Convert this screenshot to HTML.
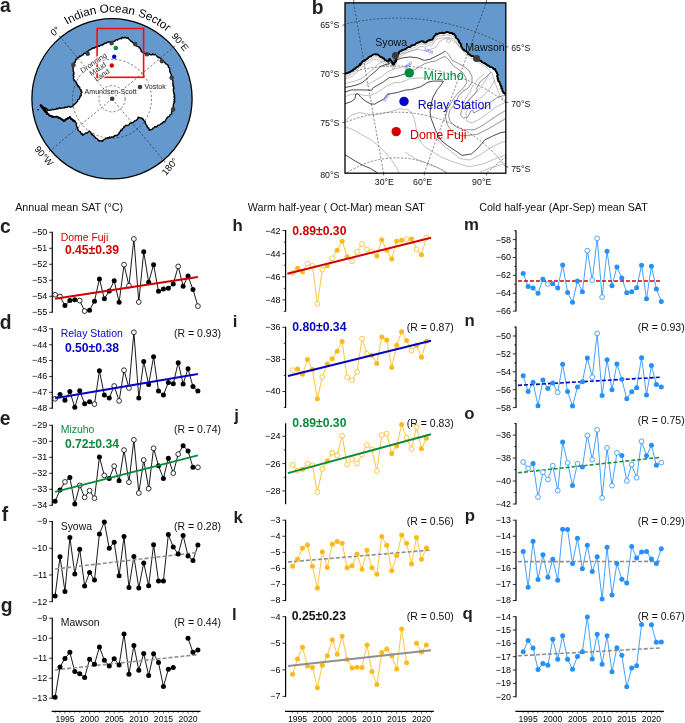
<!DOCTYPE html>
<html><head><meta charset="utf-8"><title>Figure</title>
<style>
html,body{margin:0;padding:0;background:#fff;}
body{width:685px;height:723px;overflow:hidden;}
svg{display:block;font-family:"Liberation Sans", sans-serif;will-change:transform;}
</style></head>
<body>
<svg width="685" height="723" viewBox="0 0 685 723" font-family='"Liberation Sans", sans-serif'>
<rect width="685" height="723" fill="#fff"/>
<circle cx="112.0" cy="98.8" r="80.1" fill="#6598cc"/>
<path d="M40.60,105.40 L41.46,105.62 L41.93,106.40 L42.73,106.71 L43.25,107.42 L43.93,107.93 L44.91,107.68 L45.61,107.97 L45.83,109.19 L46.82,108.91 L47.50,109.23 L47.76,110.39 L48.69,110.16 L49.76,110.45 L50.70,109.87 L51.53,109.93 L52.23,109.22 L53.13,109.66 L53.97,109.80 L54.70,109.26 L55.56,109.38 L56.24,109.15 L56.79,108.29 L57.66,108.95 L58.32,108.61 L58.95,108.12 L59.58,107.65 L60.49,108.48 L61.09,107.87 L61.84,108.05 L62.57,108.12 L63.24,107.82 L63.98,107.95 L64.58,107.21 L65.36,107.58 L65.99,107.05 L66.74,107.52 L67.44,107.40 L68.09,106.42 L68.81,106.41 L69.53,106.46 L70.30,107.31 L70.97,106.62 L71.70,106.80 L72.22,106.44 L72.89,106.05 L73.26,105.39 L73.70,104.80 L74.40,104.43 L74.88,103.86 L75.64,103.53 L75.88,102.79 L76.57,102.41 L76.96,101.78 L77.55,101.31 L77.70,100.50 L77.66,99.58 L78.76,99.44 L79.26,98.91 L79.60,98.27 L79.67,97.45 L80.21,96.94 L80.11,96.01 L81.13,95.82 L81.29,95.02 L81.10,94.11 L80.98,93.38 L81.80,92.49 L81.84,91.73 L80.65,91.16 L81.38,90.28 L80.81,89.66 L80.10,89.22 L79.78,88.50 L79.77,87.53 L79.41,86.83 L78.15,86.80 L78.24,85.77 L77.22,85.55 L77.42,84.46 L76.63,84.08 L76.78,83.10 L76.49,82.41 L75.61,82.10 L75.70,81.15 L74.61,80.97 L73.97,80.50 L74.12,79.59 L73.38,78.91 L73.52,78.15 L73.71,77.39 L73.89,76.63 L73.29,75.93 L73.09,75.20 L74.02,74.38 L73.30,73.70 L74.01,72.90 L73.87,72.15 L73.18,71.44 L73.20,70.65 L73.20,69.87 L73.27,69.08 L73.14,68.31 L73.02,67.54 L73.02,66.76 L73.27,66.24 L73.19,65.26 L73.49,64.48 L74.18,63.90 L74.04,62.90 L74.49,62.18 L75.56,61.97 L75.44,61.07 L75.83,60.47 L75.63,59.53 L76.44,59.12 L77.18,58.77 L77.38,57.75 L78.45,57.81 L79.08,57.32 L79.32,56.25 L80.31,56.44 L80.83,55.89 L81.59,55.72 L82.01,55.00 L82.86,54.97 L83.50,54.62 L83.67,53.50 L84.30,53.16 L85.33,53.36 L86.14,53.23 L86.28,52.10 L87.04,51.89 L87.75,51.61 L88.18,50.92 L88.83,50.55 L89.41,50.08 L90.06,49.72 L90.83,49.53 L91.25,48.82 L91.95,48.46 L92.79,48.68 L93.18,47.61 L94.07,48.00 L94.82,47.96 L95.34,47.25 L95.99,46.92 L96.89,47.35 L97.36,46.48 L98.02,46.20 L98.79,46.25 L99.61,46.31 L99.96,45.34 L100.75,45.24 L101.43,44.91 L102.37,45.11 L102.83,44.35 L103.73,44.46 L104.03,43.39 L104.79,43.23 L105.64,43.23 L106.43,43.15 L106.90,42.34 L107.66,42.02 L108.44,41.85 L109.25,42.29 L110.01,41.83 L110.84,42.52 L111.75,42.48 L112.11,41.49 L112.80,41.33 L113.69,41.66 L114.26,41.22 L114.99,41.14 L115.43,40.37 L115.98,39.87 L116.71,39.79 L117.58,40.09 L118.01,39.24 L118.70,39.09 L119.39,38.93 L120.05,38.69 L120.70,38.44 L121.57,38.77 L121.92,37.67 L122.52,37.26 L123.56,38.08 L124.20,37.77 L124.55,37.67 L125.50,37.22 L126.13,38.02 L126.91,38.20 L127.90,37.58 L128.35,38.25 L128.65,38.97 L129.23,39.52 L129.78,40.09 L130.42,40.61 L130.70,41.24 L131.42,41.50 L132.18,41.72 L132.52,42.65 L133.36,42.72 L133.70,43.65 L134.82,43.24 L134.89,44.47 L135.62,44.76 L136.02,45.46 L136.62,45.93 L137.19,46.42 L138.02,46.61 L139.03,46.58 L139.03,47.74 L140.14,47.81 L140.38,48.54 L140.37,49.41 L140.89,49.99 L141.38,50.58 L141.20,51.54 L141.91,52.01 L142.45,52.42 L143.25,52.53 L143.82,53.45 L144.71,53.22 L145.37,53.79 L146.28,53.51 L147.03,53.54 L147.71,54.01 L148.40,54.41 L149.19,53.70 L149.84,54.50 L150.55,54.72 L151.28,54.65 L151.99,54.73 L152.80,53.82 L153.45,54.63 L154.14,54.97 L155.24,54.18 L155.64,54.84 L156.22,55.30 L156.59,56.00 L157.24,56.36 L157.78,56.86 L158.12,57.60 L159.29,57.34 L159.80,57.86 L160.30,58.40 L160.86,58.87 L161.46,59.29 L161.32,60.59 L161.97,60.95 L163.13,60.72 L163.33,61.56 L164.00,61.85 L164.54,62.31 L165.04,62.81 L165.33,63.53 L165.91,63.94 L166.62,64.19 L167.28,64.50 L167.70,65.08 L168.53,65.55 L168.27,66.38 L168.33,67.11 L168.95,67.64 L169.52,68.18 L169.65,68.88 L169.67,69.62 L169.64,70.38 L169.68,71.10 L170.36,71.69 L170.10,72.57 L170.53,73.24 L170.97,73.91 L171.26,74.62 L171.34,75.40 L171.32,76.20 L171.87,76.84 L171.77,77.65 L172.19,78.31 L172.59,78.98 L172.39,79.78 L172.35,80.53 L173.23,81.11 L172.96,81.92 L173.10,82.64 L172.71,83.47 L172.78,84.14 L173.50,84.80 L172.93,85.55 L173.11,86.25 L173.80,86.91 L173.61,87.64 L174.07,88.31 L173.30,89.08 L173.54,89.78 L173.32,90.50 L173.49,91.20 L173.69,91.90 L173.67,92.61 L173.92,93.30 L174.50,94.00 L173.95,94.74 L174.68,95.43 L174.54,96.16 L173.81,96.90 L174.71,97.59 L174.68,98.31 L174.70,99.03 L173.79,99.78 L174.66,100.47 L174.87,101.28 L173.79,101.87 L174.55,102.71 L173.59,103.32 L173.69,104.07 L173.40,104.77 L173.16,105.48 L173.51,106.26 L173.15,106.91 L173.84,107.93 L172.79,108.52 L172.89,109.40 L172.45,110.14 L172.92,111.21 L171.87,111.61 L171.31,112.25 L171.89,113.45 L171.25,114.05 L170.65,114.64 L169.89,114.87 L169.79,115.88 L169.28,116.41 L168.67,116.81 L167.82,116.95 L167.16,117.30 L166.91,118.07 L166.54,118.74 L166.11,119.38 L165.75,120.07 L165.28,120.69 L165.09,121.71 L164.22,121.71 L163.32,121.66 L163.14,122.62 L162.33,122.71 L162.16,123.69 L161.22,123.59 L160.60,123.94 L160.11,124.41 L159.53,124.91 L158.88,125.27 L158.14,125.42 L157.34,125.47 L157.07,126.60 L156.44,126.99 L155.43,126.61 L154.65,126.77 L154.24,127.56 L153.63,128.01 L152.82,128.10 L152.49,129.03 L151.79,129.32 L151.18,129.76 L150.30,129.74 L149.52,130.33 L148.99,129.77 L148.99,128.83 L148.79,128.03 L147.70,127.88 L147.65,126.97 L146.90,126.54 L147.13,125.61 L146.55,124.98 L145.92,124.37 L145.60,123.64 L145.11,122.98 L145.35,122.05 L145.00,121.40 L144.29,121.06 L143.90,120.38 L143.33,119.89 L143.17,118.98 L142.26,119.10 L141.82,117.87 L140.83,118.16 L140.10,117.75 L139.27,117.62 L138.14,117.13 L137.83,117.81 L137.79,118.62 L137.55,119.33 L137.07,119.77 L136.34,119.98 L135.95,120.82 L135.10,120.82 L134.31,120.94 L133.94,121.81 L133.42,122.42 L132.76,122.77 L131.83,122.61 L131.21,123.01 L130.39,123.04 L129.79,123.48 L129.46,124.47 L128.83,124.85 L128.13,125.11 L127.51,125.52 L126.57,125.29 L125.83,125.46 L125.15,125.74 L124.91,126.71 L123.83,126.77 L123.75,127.80 L123.09,128.28 L122.27,128.59 L122.27,129.70 L121.71,130.27 L120.47,130.27 L120.59,131.22 L120.11,131.75 L119.48,132.17 L118.98,132.68 L119.22,133.72 L118.49,134.07 L117.97,134.57 L117.51,135.12 L116.87,135.67 L115.99,135.48 L115.12,135.29 L114.59,136.17 L113.80,136.24 L113.22,136.96 L112.42,137.02 L111.54,136.81 L111.00,137.67 L110.00,137.00 L109.26,137.20 L108.81,138.35 L107.78,137.60 L107.24,138.48 L106.37,138.24 L105.64,138.48 L105.16,139.19 L104.24,139.36 L103.64,139.90 L102.90,140.28 L102.70,141.30 L102.01,141.32 L101.44,140.82 L100.66,140.89 L99.94,140.78 L99.09,140.99 L98.60,140.31 L97.95,139.97 L97.71,139.18 L97.15,138.76 L96.53,138.40 L95.70,138.29 L95.53,137.41 L94.99,136.96 L94.11,136.91 L94.14,135.81 L93.44,135.58 L92.47,135.42 L92.72,134.21 L91.51,134.25 L91.20,133.53 L91.06,132.65 L90.46,132.17 L89.94,131.63 L89.31,130.95 L88.77,131.54 L88.20,132.09 L87.62,132.63 L87.03,133.14 L85.97,132.88 L85.28,133.24 L84.75,133.86 L83.97,134.05 L83.55,134.84 L82.58,135.27 L82.26,134.64 L82.28,133.72 L81.07,133.79 L81.07,132.90 L80.40,132.54 L80.40,131.55 L79.54,131.49 L78.97,131.06 L78.48,130.54 L78.05,129.99 L78.12,129.17 L77.43,128.55 L77.80,127.64 L76.75,127.12 L76.73,126.32 L76.34,125.64 L76.11,124.83 L76.64,123.80 L76.34,123.02 L75.48,122.41 L75.43,121.83 L74.92,121.27 L74.45,120.60 L73.85,120.20 L73.17,119.95 L72.49,119.83 L71.57,119.52 L71.30,118.70 L70.61,118.21 L70.43,117.32 L69.85,116.63 L69.47,117.47 L68.80,117.90 L67.78,117.87 L67.68,119.07 L66.54,118.77 L65.85,119.00 L65.18,119.26 L64.84,120.19 L64.11,120.32 L63.56,120.62 L62.96,120.09 L62.56,119.28 L61.71,119.08 L60.80,118.97 L60.49,117.91 L59.65,118.00 L59.07,117.55 L58.50,117.10 L57.47,117.55 L57.07,116.38 L56.28,116.59 L55.50,116.87 L54.70,116.91 L53.90,117.07 L52.94,117.43 L52.42,116.72 L51.45,116.90 L51.00,116.05 L50.38,115.54 L49.57,115.41 L48.94,114.93 L48.45,114.16 L47.87,114.01 L46.72,114.01 L46.91,112.97 L46.32,112.54 L45.35,112.41 L45.21,111.62 L44.66,111.16 L44.08,110.72 L44.09,109.82 L44.03,108.98 L43.02,108.87 L43.11,107.91 L42.51,107.48 L41.55,107.34 L41.80,106.25 L41.13,105.88 L40.60,105.40 Z" fill="#fff" stroke="#000" stroke-width="1.35" stroke-linejoin="round"/>
<path d="M40.3,104.6 L43.5,107.2 L46.5,110.6 L48.2,113.2 L47,114.6 L44.6,112 L41.8,108.6 L39.8,105.6 Z" fill="#000"/>
<polyline points="40.80,105.20 41.29,105.71 41.64,106.35 41.76,107.17 42.63,107.37 43.04,107.96 43.42,108.56 44.30,108.93 44.49,109.83 44.88,110.57 45.22,111.35 46.36,111.47 46.67,112.18 47.36,112.55 47.23,113.67 47.83,114.12 48.78,114.03 48.83,115.37 49.46,115.73 50.28,115.78 50.94,116.12 51.89,116.00 52.67,116.22 53.10,117.13 53.87,116.53 54.68,116.65 55.48,116.67 56.27,116.38 57.12,116.86 57.93,117.18 58.54,117.98 59.49,117.97 60.19,118.43 60.94,118.82 61.46,119.49 62.25,119.82 63.03,120.17 63.77,121.43 64.41,121.11 64.96,120.63 65.53,120.16 65.96,119.42 66.51,119.04 67.19,118.62 67.67,117.93 68.81,118.12 69.19,117.28 69.57,117.16 70.51,117.46 70.47,118.52 71.07,119.08 72.37,119.09 72.56,119.79 72.82,120.86 73.70,120.71 74.06,121.58 75.02,121.27 75.60,121.70" fill="none" stroke="#000" stroke-width="1.5" stroke-linejoin="round"/>
<polyline points="40.8,105.4 43.8,108.6 46.4,112.2" fill="none" stroke="#000" stroke-width="2.4" stroke-linecap="round"/>
<circle cx="38.2" cy="109.7" r="0.8" fill="#000"/>
<line x1="112.0" y1="98.8" x2="60.51" y2="37.44" stroke="#222" stroke-width="0.6" stroke-dasharray="2.2,2.0" fill="none"/>
<line x1="112.0" y1="98.8" x2="173.36" y2="47.31" stroke="#222" stroke-width="0.6" stroke-dasharray="2.2,2.0" fill="none"/>
<line x1="112.0" y1="98.8" x2="163.49" y2="160.16" stroke="#222" stroke-width="0.6" stroke-dasharray="2.2,2.0" fill="none"/>
<line x1="112.0" y1="98.8" x2="50.64" y2="150.29" stroke="#222" stroke-width="0.6" stroke-dasharray="2.2,2.0" fill="none"/>
<circle cx="112.0" cy="98.8" r="13.1" stroke="#222" stroke-width="0.6" stroke-dasharray="2.2,2.0" fill="none"/>
<circle cx="112.0" cy="98.8" r="39.5" stroke="#222" stroke-width="0.6" stroke-dasharray="2.2,2.0" fill="none"/>
<circle cx="112.0" cy="98.8" r="80.1" fill="none" stroke="#000" stroke-width="1.3"/>
<line x1="60.51" y1="37.44" x2="59.10" y2="35.75" stroke="#000" stroke-width="0.6"/>
<line x1="173.36" y1="47.31" x2="175.05" y2="45.90" stroke="#000" stroke-width="0.6"/>
<line x1="163.49" y1="160.16" x2="164.90" y2="161.85" stroke="#000" stroke-width="0.6"/>
<line x1="50.64" y1="150.29" x2="48.95" y2="151.70" stroke="#000" stroke-width="0.6"/>
<rect x="97.1" y="28.5" width="46.5" height="48.8" fill="none" stroke="#ff0a0a" stroke-width="1.6"/>
<circle cx="111.6" cy="43.1" r="2.3" fill="#3c3c3c"/>
<circle cx="87.7" cy="53.8" r="2.3" fill="#3c3c3c"/>
<circle cx="73.4" cy="65.1" r="2.3" fill="#3c3c3c"/>
<circle cx="135.2" cy="44.1" r="2.3" fill="#3c3c3c"/>
<circle cx="147" cy="54.2" r="2.3" fill="#3c3c3c"/>
<circle cx="161.8" cy="61.1" r="2.3" fill="#3c3c3c"/>
<circle cx="171.7" cy="77.8" r="2.3" fill="#3c3c3c"/>
<circle cx="173.1" cy="109.4" r="2.3" fill="#3c3c3c"/>
<circle cx="140.0" cy="87.0" r="2.3" fill="#3c3c3c"/>
<circle cx="112.2" cy="98.8" r="2.3" fill="#3c3c3c"/>
<circle cx="115.8" cy="48" r="2.3" fill="#008a40"/>
<circle cx="114.2" cy="56.8" r="2.2" fill="#0505c8"/>
<circle cx="111.8" cy="65.5" r="2.2" fill="#d00000"/>
<text x="84.60" y="93.90" font-size="7.6" fill="#222" text-anchor="start" textLength="52" lengthAdjust="spacingAndGlyphs" stroke="#fff" stroke-width="1.3" paint-order="stroke">Amundsen-Scott</text>
<text x="144.40" y="89.40" font-size="7.4" fill="#222" text-anchor="start" textLength="21.3" lengthAdjust="spacingAndGlyphs" stroke="#fff" stroke-width="1.3" paint-order="stroke">Vostok</text>
<g transform="translate(97.6,68.8) rotate(-34)" font-size="7.4" fill="#333" text-anchor="middle" stroke="#fff" stroke-width="1.4" paint-order="stroke" stroke-linejoin="round"><text x="0" y="-4.8">Dronning</text><text x="0" y="2.7">Maud</text><text x="0" y="10.2">Land</text></g>
<path id="arcT" d="M26.81,83.78 A86.5,86.5 0 0 1 197.19,83.78" fill="none"/>
<text font-size="11.7" fill="#000"><textPath href="#arcT" startOffset="126.82" text-anchor="middle">Indian Ocean Sector</textPath></text>
<text transform="translate(55.0,31.0) rotate(-40)" font-size="9.4" text-anchor="middle" dominant-baseline="central" fill="#000">0°</text>
<text transform="translate(180.4,41.8) rotate(50)" font-size="9.4" text-anchor="middle" dominant-baseline="central" fill="#000">90°E</text>
<text transform="translate(169.5,166.2) rotate(-50)" font-size="9.4" text-anchor="middle" dominant-baseline="central" fill="#000">180°</text>
<text transform="translate(44.1,155.8) rotate(50)" font-size="9.4" text-anchor="middle" dominant-baseline="central" fill="#000">90°W</text>
<defs><clipPath id="cb"><rect x="345.0" y="2.85" width="160.8" height="170.35"/></clipPath></defs>
<g clip-path="url(#cb)">
<rect x="345.0" y="2.85" width="160.8" height="170.35" fill="#fff"/>
<path d="M345.0,2.85 L505.8,2.85 L505.80,94.50 L505.13,93.90 L504.50,93.25 L503.56,92.93 L503.26,91.94 L502.51,91.38 L502.50,90.48 L502.30,89.66 L502.09,88.85 L501.26,88.28 L501.67,87.21 L501.09,86.54 L500.92,85.71 L500.31,85.06 L500.32,84.15 L499.95,83.40 L499.68,82.61 L499.41,81.82 L498.52,81.27 L498.17,80.51 L498.26,79.58 L497.60,78.80 L497.83,77.83 L497.54,76.97 L497.05,76.15 L497.82,75.08 L497.53,74.22 L496.95,73.41 L496.82,72.43 L496.20,71.60 L495.57,70.78 L495.39,69.81 L495.12,69.01 L494.08,69.21 L493.30,68.92 L492.90,67.87 L492.17,67.47 L491.46,67.08 L490.45,67.11 L489.62,66.85 L489.19,65.94 L488.48,65.50 L487.47,65.54 L486.84,64.96 L486.40,64.15 L485.47,64.13 L485.10,63.19 L484.26,63.04 L483.43,62.86 L482.72,62.48 L481.97,62.17 L481.41,61.55 L481.01,60.64 L479.92,60.80 L479.29,60.23 L478.66,59.63 L477.75,59.49 L477.00,59.09 L476.43,58.41 L475.87,57.62 L475.10,57.18 L474.31,56.79 L473.53,56.35 L472.76,56.04 L471.73,56.10 L471.00,55.69 L470.31,55.20 L469.86,54.34 L468.87,54.33 L468.30,53.66 L467.85,52.78 L467.13,52.27 L466.58,51.54 L465.88,51.01 L464.99,50.74 L464.19,50.34 L463.66,49.58 L462.90,49.13 L462.44,48.39 L462.06,47.61 L461.63,46.86 L461.13,46.14 L460.90,45.29 L461.04,44.25 L460.55,43.52 L459.72,43.03 L459.49,42.19 L458.84,41.60 L458.91,40.57 L458.30,39.96 L457.95,39.19 L457.13,38.70 L456.47,38.12 L455.84,37.49 L455.65,36.52 L455.50,35.51 L454.55,35.13 L454.32,34.18 L453.48,33.72 L452.52,33.96 L451.83,32.86 L450.91,32.81 L449.89,33.28 L449.12,32.54 L448.22,32.43 L447.38,32.01 L446.37,32.09 L445.53,32.58 L444.64,32.67 L443.81,33.29 L442.91,33.25 L441.94,32.63 L441.08,32.97 L440.25,33.15 L439.41,33.26 L438.57,33.36 L437.86,34.01 L437.11,34.46 L436.09,33.84 L435.61,34.92 L434.92,35.48 L434.49,36.20 L433.89,36.82 L433.45,37.55 L433.22,38.41 L432.60,39.01 L432.16,39.74 L431.41,39.62 L430.48,39.77 L429.65,40.48 L428.64,40.11 L427.91,40.79 L427.17,41.16 L426.62,41.90 L425.91,42.35 L425.13,42.65 L424.07,42.44 L423.62,41.34 L422.61,41.59 L421.85,41.21 L421.07,41.35 L420.28,41.75 L419.52,42.24 L418.74,42.30 L417.93,42.58 L417.26,43.06 L416.33,43.15 L415.77,43.81 L415.25,44.53 L414.49,44.89 L413.58,44.95 L412.74,45.25 L411.89,45.50 L411.05,45.77 L410.49,46.83 L409.63,47.06 L408.60,46.99 L407.80,47.46 L406.90,47.75 L406.33,48.69 L405.48,49.07 L404.67,49.54 L403.71,49.66 L402.84,49.99 L401.86,50.08 L401.40,51.20 L400.37,51.19 L399.49,51.48 L398.84,52.27 L398.95,53.35 L397.89,53.75 L397.50,54.54 L397.10,55.32 L396.91,56.22 L396.09,56.76 L396.48,57.84 L396.03,58.57 L395.75,59.35 L396.09,60.27 L396.08,61.11 L395.29,61.82 L394.89,62.58 L393.90,63.00 L393.98,64.04 L393.38,64.69 L392.57,64.09 L392.22,63.22 L392.12,62.22 L391.57,61.46 L391.12,60.64 L390.40,60.15 L389.99,59.26 L388.95,59.08 L388.94,59.82 L388.78,60.88 L388.36,61.85 L387.67,60.94 L386.67,60.86 L386.08,60.10 L384.96,59.98 L384.40,59.09 L383.81,58.23 L382.50,58.27 L382.14,57.24 L381.13,57.15 L380.28,56.79 L379.69,56.02 L378.82,55.46 L378.18,54.59 L377.08,54.36 L376.30,54.57 L375.33,54.15 L374.42,54.38 L373.51,54.59 L372.62,54.87 L371.91,55.49 L371.28,56.22 L370.24,56.36 L369.41,56.74 L368.68,57.24 L368.21,58.14 L367.37,58.49 L366.78,59.22 L366.01,59.67 L365.04,59.84 L364.66,60.86 L363.63,60.94 L362.79,61.28 L362.13,61.97 L361.61,62.69 L361.39,63.71 L360.20,63.76 L360.24,65.04 L359.20,65.14 L358.68,65.79 L358.28,66.60 L357.45,66.87 L356.56,67.07 L355.86,67.51 L355.69,68.57 L354.82,68.78 L353.99,69.04 L353.36,69.54 L352.97,70.33 L352.10,70.55 L351.66,71.29 L350.72,71.27 L350.12,71.92 L349.46,72.45 L348.50,72.42 L347.82,73.24 L346.74,73.07 L345.87,73.53 L345.00,74.00 Z" fill="#6598cc"/>
<circle cx="396.8" cy="248.2" r="230.11" stroke="#2a2a2a" stroke-width="0.55" stroke-dasharray="2.2,1.6" fill="none"/>
<circle cx="396.8" cy="248.2" r="182.15" stroke="#2a2a2a" stroke-width="0.55" stroke-dasharray="2.2,1.6" fill="none"/>
<circle cx="396.8" cy="248.2" r="136.00" stroke="#2a2a2a" stroke-width="0.55" stroke-dasharray="2.2,1.6" fill="none"/>
<circle cx="396.8" cy="248.2" r="90.38" stroke="#2a2a2a" stroke-width="0.55" stroke-dasharray="2.2,1.6" fill="none"/>
<line x1="396.8" y1="248.2" x2="327.34" y2="-145.72" stroke="#2a2a2a" stroke-width="0.55" stroke-dasharray="2.2,1.6" fill="none"/>
<line x1="396.8" y1="248.2" x2="533.61" y2="-127.68" stroke="#2a2a2a" stroke-width="0.55" stroke-dasharray="2.2,1.6" fill="none"/>
<line x1="396.8" y1="248.2" x2="703.22" y2="-8.92" stroke="#2a2a2a" stroke-width="0.55" stroke-dasharray="2.2,1.6" fill="none"/>
<polyline points="345.0,76.6 348.7,75.4 352.4,73.5 356.1,70.4 359.9,67.3 363.0,64.2 366.7,61.7 370.4,59.2 373.5,57.1 377.2,56.8 379.7,58.6 382.8,60.5 385.9,63.0 388.2,64.4 389.2,61.4 391.2,63.2 393.4,67.3 395.6,63.6 396.5,59.6 399.6,54.3 404.5,51.8 409.5,49.3 414.5,47.5 419.4,44.4 421.9,43.7 425.0,45.0 428.7,43.1 432.4,42.5 436.2,36.9 441.1,35.7 447.3,35.0 453.5,36.3 457.3,41.2 460.4,46.2" fill="none" stroke="#8a8a8a" stroke-width="0.55" stroke-linejoin="round"/>
<polyline points="345.0,79.0 348.7,77.8 352.4,75.9 356.1,72.8 359.9,69.7 363.0,66.6 366.7,64.1 370.4,61.6 373.5,59.5 377.2,59.2 379.7,61.0 382.8,62.9 385.9,65.4 388.2,66.8 389.2,63.8 391.2,65.6 393.4,69.7 395.6,66.0 396.5,62.0 399.6,56.7 404.5,54.2 409.5,51.7 414.5,49.9 419.4,46.8 421.9,46.1 425.0,47.4 428.7,45.5 432.4,44.9 436.2,39.3 441.1,38.1 447.3,37.4 453.5,38.7 457.3,43.6 460.4,48.6" fill="none" stroke="#8a8a8a" stroke-width="0.55" stroke-linejoin="round"/>
<polyline points="345.0,83.7 350.0,82.3 355.0,81.2 362.2,78.2 366.0,75.0 370.0,71.5 374.0,68.5 378.0,64.0 383.0,61.5 388.0,61.0 395.0,56.9 400.0,54.5 406.7,52.2 412.0,50.5 418.4,49.3 425.4,51.0 430.0,49.5 435.9,47.5 439.4,41.7 444.0,38.8 450.0,38.5 455.7,42.8 460.4,47.5 465.0,53.4 470.0,57.5 476.0,61.0 482.0,64.5 488.0,68.5 492.0,73.0 494.0,80.0 497.0,88.0 500.0,96.0 505.8,101.0" fill="none" stroke="#8a8a8a" stroke-width="0.55" stroke-linejoin="round"/>
<polyline points="446.0,40.5 448.7,39.2 451.0,41.2 448.7,43.0 446.0,40.5" fill="none" stroke="#8a8a8a" stroke-width="0.55" stroke-linejoin="round"/>
<polyline points="345.0,87.4 351.3,86.3 357.1,84.8 362.2,82.6 365.9,79.7 369.5,76.1 373.2,73.1 376.8,70.2 379.8,66.6 384.1,65.1 388.0,64.0 395.0,60.4 402.0,58.0 410.2,56.9 418.4,58.0 424.2,60.4 430.0,59.2 435.9,56.3 441.7,53.4 445.2,51.0" fill="none" stroke="#1e1e1e" stroke-width="0.8" stroke-linejoin="round"/>
<polyline points="445.2,51.0 448.7,54.5 452.2,60.4 458.5,63.5 464.0,66.5 469.0,70.5 472.0,76.5 472.0,82.0 468.7,87.6 462.6,91.7 458.5,95.8 456.5,100.9 453.4,106.0 449.9,110.0 448.6,115.7 449.9,121.1 455.3,126.5 463.3,129.8 474.1,129.8 480.8,126.5 488.9,121.1 496.9,115.7 505.8,110.4" fill="none" stroke="#4a4a4a" stroke-width="0.6" stroke-linejoin="round"/>
<polyline points="491.0,72.0 486.0,77.0 480.0,82.0 476.9,87.6 476.9,90.7 473.8,94.7 469.7,98.8 465.7,103.9 461.6,110.1 460.5,115.2 463.6,118.2 467.7,117.2 470.8,111.1 472.8,110.1 473.8,113.1 478.9,110.1 486.1,107.0 492.2,100.9 498.4,96.8 505.8,95.3" fill="none" stroke="#4a4a4a" stroke-width="0.6" stroke-linejoin="round"/>
<polyline points="484.0,74.0 478.0,79.0 472.5,86.0 470.0,92.0 466.0,98.0 463.0,104.0 464.5,110.0 467.5,104.0 471.0,98.0 476.0,93.0 481.0,87.0 486.0,80.0 489.0,74.0" fill="none" stroke="#8a8a8a" stroke-width="0.55" stroke-linejoin="round"/>
<polyline points="495.0,80.0 490.0,88.0 484.0,95.0 478.0,100.0 472.0,104.0 468.0,108.0 466.0,113.0 466.5,121.0 472.0,123.0 480.0,119.0 488.0,113.0 496.0,107.0 505.8,102.0" fill="none" stroke="#8a8a8a" stroke-width="0.55" stroke-linejoin="round"/>
<polyline points="345.0,92.1 351.3,89.9 357.1,89.9 363.0,89.9 371.7,90.3 373.2,87.7 378.3,84.8 383.4,81.9 389.3,77.5 394.0,77.2 400.4,75.4 404.5,73.9 409.0,72.6 412.0,71.0" fill="none" stroke="#1e1e1e" stroke-width="0.8" stroke-linejoin="round"/>
<polyline points="412.0,71.0 416.0,68.8 420.0,66.3 425.0,63.5 430.0,62.0 436.0,61.0 441.0,58.0 445.0,56.5 449.0,60.0 453.0,65.5 458.0,69.0 463.0,73.0 466.0,78.0 466.5,83.0 463.0,88.5 458.0,93.0 454.0,98.0 450.5,104.0 447.0,110.0 445.5,117.0 447.0,124.0 452.0,131.9 462.0,135.9 476.8,134.5 490.2,127.8 505.8,118.4" fill="none" stroke="#4a4a4a" stroke-width="0.6" stroke-linejoin="round"/>
<polyline points="345.0,96.5 351.3,94.3 358.6,94.3 364.0,95.3 369.5,95.8 376.8,92.8 384.1,87.7 394.0,82.6 400.4,82.6 410.7,78.5 420.0,78.0 430.0,77.5" fill="none" stroke="#8a8a8a" stroke-width="0.55" stroke-linejoin="round"/>
<polyline points="365.9,85.5 372.0,82.0 380.5,77.5 387.8,71.7 394.0,69.0 402.0,67.0 410.0,64.5" fill="none" stroke="#8a8a8a" stroke-width="0.55" stroke-linejoin="round"/>
<polyline points="345.0,103.8 351.3,101.6 355.0,98.7 355.7,94.3 357.9,93.6 360.8,97.2 365.2,100.9 370.3,103.8 374.7,104.2 379.0,101.6 383.4,99.4 387.8,94.3 391.4,93.6 397.6,92.4 405.7,90.0 410.7,89.7 420.9,86.7 428.0,82.1 433.1,81.1 443.4,81.1 441.3,84.6 437.2,89.7 433.1,96.9 431.1,104.0 430.1,112.2 431.1,118.4 435.1,129.2 440.5,139.9 447.2,145.3 455.3,150.7 462.0,155.4 471.4,154.0 478.1,148.0 484.8,139.9 492.9,135.9 501.0,132.5 505.8,131.9" fill="none" stroke="#1e1e1e" stroke-width="0.8" stroke-linejoin="round"/>
<polyline points="345.0,121.0 346.5,119.5 351.5,115.1 359.1,112.6 366.6,113.8 372.9,115.1 381.7,113.8 391.7,111.3 399.2,108.8 406.8,109.4 411.8,112.6 414.3,118.8 415.6,125.1 416.8,132.6 419.3,140.2 424.4,146.5 430.0,150.2 441.9,157.5 455.3,162.7 468.7,166.8 482.2,164.1 495.6,158.7 505.8,154.7" fill="none" stroke="#8a8a8a" stroke-width="0.55" stroke-linejoin="round"/>
<polyline points="436.0,138.0 444.0,146.0 452.0,152.0 460.0,158.5 470.0,160.0 480.0,155.0 490.0,148.0 500.0,143.0 505.8,141.0" fill="none" stroke="#8a8a8a" stroke-width="0.55" stroke-linejoin="round"/>
<polyline points="345.0,126.8 345.9,127.0 354.0,130.1 362.8,135.2 371.6,140.2 379.2,146.5 386.7,154.0 391.7,160.3 396.7,167.8 399.2,173.2" fill="none" stroke="#8a8a8a" stroke-width="0.55" stroke-linejoin="round"/>
<polyline points="345.0,154.8 345.9,155.2 354.0,160.3 362.8,165.3 370.4,168.4 377.9,173.2" fill="none" stroke="#1e1e1e" stroke-width="0.8" stroke-linejoin="round"/>
<polyline points="405.0,152.0 415.0,158.7 428.0,164.0 441.9,169.5 447.2,173.2" fill="none" stroke="#8a8a8a" stroke-width="0.55" stroke-linejoin="round"/>
<polyline points="480.0,172.0 490.0,168.0 500.0,165.0 505.8,163.0" fill="none" stroke="#8a8a8a" stroke-width="0.55" stroke-linejoin="round"/>
</g>
<polyline points="345.00,74.00 345.87,73.53 346.74,73.07 347.82,73.24 348.50,72.42 349.46,72.45 350.12,71.92 350.72,71.27 351.66,71.29 352.10,70.55 352.97,70.33 353.36,69.54 353.99,69.04 354.82,68.78 355.69,68.57 355.86,67.51 356.56,67.07 357.45,66.87 358.28,66.60 358.68,65.79 359.20,65.14 360.24,65.04 360.20,63.76 361.39,63.71 361.61,62.69 362.13,61.97 362.79,61.28 363.63,60.94 364.66,60.86 365.04,59.84 366.01,59.67 366.78,59.22 367.37,58.49 368.21,58.14 368.68,57.24 369.41,56.74 370.24,56.36 371.28,56.22 371.91,55.49 372.62,54.87 373.51,54.59 374.42,54.38 375.33,54.15 376.30,54.57 377.08,54.36 378.18,54.59 378.82,55.46 379.69,56.02 380.28,56.79 381.13,57.15 382.14,57.24 382.50,58.27 383.81,58.23 384.40,59.09 384.96,59.98 386.08,60.10 386.67,60.86 387.67,60.94 388.36,61.85 388.78,60.88 388.94,59.82 388.95,59.08 389.99,59.26 390.40,60.15 391.12,60.64 391.57,61.46 392.12,62.22 392.22,63.22 392.57,64.09 393.38,64.69 393.98,64.04 393.90,63.00 394.89,62.58 395.29,61.82 396.08,61.11 396.09,60.27 395.75,59.35 396.03,58.57 396.48,57.84 396.09,56.76 396.91,56.22 397.10,55.32 397.50,54.54 397.89,53.75 398.95,53.35 398.84,52.27 399.49,51.48 400.37,51.19 401.40,51.20 401.86,50.08 402.84,49.99 403.71,49.66 404.67,49.54 405.48,49.07 406.33,48.69 406.90,47.75 407.80,47.46 408.60,46.99 409.63,47.06 410.49,46.83 411.05,45.77 411.89,45.50 412.74,45.25 413.58,44.95 414.49,44.89 415.25,44.53 415.77,43.81 416.33,43.15 417.26,43.06 417.93,42.58 418.74,42.30 419.52,42.24 420.28,41.75 421.07,41.35 421.85,41.21 422.61,41.59 423.62,41.34 424.07,42.44 425.13,42.65 425.91,42.35 426.62,41.90 427.17,41.16 427.91,40.79 428.64,40.11 429.65,40.48 430.48,39.77 431.41,39.62 432.16,39.74 432.60,39.01 433.22,38.41 433.45,37.55 433.89,36.82 434.49,36.20 434.92,35.48 435.61,34.92 436.09,33.84 437.11,34.46 437.86,34.01 438.57,33.36 439.41,33.26 440.25,33.15 441.08,32.97 441.94,32.63 442.91,33.25 443.81,33.29 444.64,32.67 445.53,32.58 446.37,32.09 447.38,32.01 448.22,32.43 449.12,32.54 449.89,33.28 450.91,32.81 451.83,32.86 452.52,33.96 453.48,33.72 454.32,34.18 454.55,35.13 455.50,35.51 455.65,36.52 455.84,37.49 456.47,38.12 457.13,38.70 457.95,39.19 458.30,39.96 458.91,40.57 458.84,41.60 459.49,42.19 459.72,43.03 460.55,43.52 461.04,44.25 460.90,45.29 461.13,46.14 461.63,46.86 462.06,47.61 462.44,48.39 462.90,49.13 463.66,49.58 464.19,50.34 464.99,50.74 465.88,51.01 466.58,51.54 467.13,52.27 467.85,52.78 468.30,53.66 468.87,54.33 469.86,54.34 470.31,55.20 471.00,55.69 471.73,56.10 472.76,56.04 473.53,56.35 474.31,56.79 475.10,57.18 475.87,57.62 476.43,58.41 477.00,59.09 477.75,59.49 478.66,59.63 479.29,60.23 479.92,60.80 481.01,60.64 481.41,61.55 481.97,62.17 482.72,62.48 483.43,62.86 484.26,63.04 485.10,63.19 485.47,64.13 486.40,64.15 486.84,64.96 487.47,65.54 488.48,65.50 489.19,65.94 489.62,66.85 490.45,67.11 491.46,67.08 492.17,67.47 492.90,67.87 493.30,68.92 494.08,69.21 495.12,69.01 495.39,69.81 495.57,70.78 496.20,71.60 496.82,72.43 496.95,73.41 497.53,74.22 497.82,75.08 497.05,76.15 497.54,76.97 497.83,77.83 497.60,78.80 498.26,79.58 498.17,80.51 498.52,81.27 499.41,81.82 499.68,82.61 499.95,83.40 500.32,84.15 500.31,85.06 500.92,85.71 501.09,86.54 501.67,87.21 501.26,88.28 502.09,88.85 502.30,89.66 502.50,90.48 502.51,91.38 503.26,91.94 503.56,92.93 504.50,93.25 505.13,93.90 505.80,94.50" fill="none" stroke="#000" stroke-width="1.9" stroke-linejoin="round"/>
<rect x="345.0" y="2.85" width="160.8" height="170.35" fill="none" stroke="#000" stroke-width="1.3"/>
<line x1="353.7" y1="2.85" x2="353.7" y2="0" stroke="#000" stroke-width="0.6"/>
<line x1="486.4" y1="2.85" x2="486.4" y2="0" stroke="#000" stroke-width="0.6"/>
<line x1="383.6" y1="173.2" x2="383.6" y2="175.39999999999998" stroke="#000" stroke-width="0.6"/>
<line x1="424.3" y1="173.2" x2="424.3" y2="175.39999999999998" stroke="#000" stroke-width="0.6"/>
<line x1="486.4" y1="173.2" x2="486.4" y2="175.39999999999998" stroke="#000" stroke-width="0.6"/>
<line x1="345.0" y1="25.1" x2="342.5" y2="25.1" stroke="#000" stroke-width="0.6"/>
<line x1="345.0" y1="73.6" x2="342.5" y2="73.6" stroke="#000" stroke-width="0.6"/>
<line x1="345.0" y1="122.5" x2="342.5" y2="122.5" stroke="#000" stroke-width="0.6"/>
<line x1="505.8" y1="46.8" x2="508.3" y2="46.8" stroke="#000" stroke-width="0.6"/>
<line x1="505.8" y1="102.3" x2="508.3" y2="102.3" stroke="#000" stroke-width="0.6"/>
<line x1="505.8" y1="166.9" x2="508.3" y2="166.9" stroke="#000" stroke-width="0.6"/>
<text transform="translate(386.5,97) rotate(-60)" font-size="4.4" fill="#4848ff" text-anchor="middle" dominant-baseline="central">3000</text>
<text transform="translate(408,65.5) rotate(-40)" font-size="4.4" fill="#4848ff" text-anchor="middle" dominant-baseline="central">1000</text>
<text transform="translate(428.5,51) rotate(22)" font-size="4.4" fill="#4848ff" text-anchor="middle" dominant-baseline="central">1000</text>
<circle cx="395.4" cy="55.6" r="3.5" fill="#3a3a3a"/>
<circle cx="476.6" cy="58.5" r="3.5" fill="#3a3a3a"/>
<circle cx="409.3" cy="72.9" r="4.7" fill="#008a40"/>
<circle cx="404.0" cy="101.4" r="4.7" fill="#0505c8"/>
<circle cx="396.2" cy="131.6" r="4.7" fill="#d00000"/>
<text x="375.30" y="46.00" font-size="10.6" fill="#111" text-anchor="start" >Syowa</text>
<text x="465.30" y="51.30" font-size="10.6" fill="#111" text-anchor="start" >Mawson</text>
<text x="423.60" y="79.70" font-size="12.4" fill="#008a40" text-anchor="start" >Mizuho</text>
<text x="417.70" y="108.80" font-size="12.35" fill="#0505c8" text-anchor="start" >Relay Station</text>
<text x="410.00" y="139.30" font-size="12.4" fill="#d00000" text-anchor="start" >Dome Fuji</text>
<text x="339.40" y="28.40" font-size="8.8" fill="#111" text-anchor="end" >65°S</text>
<text x="339.40" y="77.00" font-size="8.8" fill="#111" text-anchor="end" >70°S</text>
<text x="339.40" y="126.00" font-size="8.8" fill="#111" text-anchor="end" >75°S</text>
<text x="339.40" y="177.80" font-size="8.8" fill="#111" text-anchor="end" >80°S</text>
<text x="511.20" y="50.60" font-size="8.8" fill="#111" text-anchor="start" >65°S</text>
<text x="511.20" y="106.60" font-size="8.8" fill="#111" text-anchor="start" >70°S</text>
<text x="511.20" y="172.20" font-size="8.8" fill="#111" text-anchor="start" >75°S</text>
<text x="384.40" y="185.20" font-size="8.8" fill="#111" text-anchor="middle" >30°E</text>
<text x="422.60" y="185.20" font-size="8.8" fill="#111" text-anchor="middle" >60°E</text>
<text x="481.70" y="185.20" font-size="8.8" fill="#111" text-anchor="middle" >90°E</text>
<text x="0.04" y="11.80" font-size="19.3" fill="#231f20" font-weight="bold" text-anchor="start" >a</text>
<text x="311.63" y="13.80" font-size="19.3" fill="#231f20" font-weight="bold" text-anchor="start" >b</text>
<text x="-0.05" y="233.20" font-size="19.3" fill="#231f20" font-weight="bold" text-anchor="start" >c</text>
<text x="-0.29" y="328.60" font-size="19.3" fill="#231f20" font-weight="bold" text-anchor="start" >d</text>
<text x="-0.15" y="424.90" font-size="19.3" fill="#231f20" font-weight="bold" text-anchor="start" >e</text>
<text x="1.67" y="520.70" font-size="19.3" fill="#231f20" font-weight="bold" text-anchor="start" >f</text>
<text x="0.81" y="612.40" font-size="19.3" fill="#231f20" font-weight="bold" text-anchor="start" >g</text>
<text x="232.62" y="231.00" font-size="16.8" fill="#231f20" font-weight="bold" text-anchor="start" >h</text>
<text x="232.82" y="327.00" font-size="16.8" fill="#231f20" font-weight="bold" text-anchor="start" >i</text>
<text x="234.27" y="421.20" font-size="16.8" fill="#231f20" font-weight="bold" text-anchor="start" >j</text>
<text x="233.42" y="522.70" font-size="16.8" fill="#231f20" font-weight="bold" text-anchor="start" >k</text>
<text x="231.92" y="619.80" font-size="16.8" fill="#231f20" font-weight="bold" text-anchor="start" >l</text>
<text x="464.09" y="229.90" font-size="16.8" fill="#231f20" font-weight="bold" text-anchor="start" >m</text>
<text x="464.39" y="325.70" font-size="16.8" fill="#231f20" font-weight="bold" text-anchor="start" >n</text>
<text x="464.24" y="419.40" font-size="16.8" fill="#231f20" font-weight="bold" text-anchor="start" >o</text>
<text x="464.69" y="521.10" font-size="16.8" fill="#231f20" font-weight="bold" text-anchor="start" >p</text>
<text x="462.51" y="618.70" font-size="16.8" fill="#231f20" font-weight="bold" text-anchor="start" >q</text>
<text x="15.20" y="210.80" font-size="10.7" fill="#111" text-anchor="start" >Annual mean SAT (°C)</text>
<text x="247.80" y="210.80" font-size="10.7" fill="#111" text-anchor="start" >Warm half-year ( Oct-Mar) mean SAT</text>
<text x="479.20" y="210.80" font-size="10.7" fill="#111" text-anchor="start" >Cold half-year (Apr-Sep) mean SAT</text>
<text x="60.70" y="240.60" font-size="10.45" fill="#d00000" text-anchor="start" >Dome Fuji</text>
<text x="64.90" y="253.70" font-size="12.2" fill="#d00000" font-weight="bold" text-anchor="start" >0.45±0.39</text>
<text x="60.70" y="337.00" font-size="10.45" fill="#0505c8" text-anchor="start" >Relay Station</text>
<text x="64.90" y="351.50" font-size="12.2" fill="#0505c8" font-weight="bold" text-anchor="start" >0.50±0.38</text>
<text x="174.00" y="337.00" font-size="10.5" fill="#111" text-anchor="start" >(R = 0.93)</text>
<text x="60.70" y="433.10" font-size="10.45" fill="#0b8a3e" text-anchor="start" >Mizuho</text>
<text x="64.90" y="447.70" font-size="12.2" fill="#0b8a3e" font-weight="bold" text-anchor="start" >0.72±0.34</text>
<text x="174.00" y="433.10" font-size="10.5" fill="#111" text-anchor="start" >(R = 0.74)</text>
<text x="60.70" y="530.20" font-size="10.45" fill="#111" text-anchor="start" >Syowa</text>
<text x="174.00" y="530.20" font-size="10.5" fill="#111" text-anchor="start" >(R = 0.28)</text>
<text x="60.70" y="626.00" font-size="10.45" fill="#111" text-anchor="start" >Mawson</text>
<text x="174.00" y="626.00" font-size="10.5" fill="#111" text-anchor="start" >(R = 0.44)</text>
<text x="292.30" y="234.60" font-size="12.2" fill="#d00000" font-weight="bold" text-anchor="start" >0.89±0.30</text>
<text x="292.30" y="331.00" font-size="12.2" fill="#0505c8" font-weight="bold" text-anchor="start" >0.80±0.34</text>
<text x="406.80" y="331.00" font-size="10.5" fill="#111" text-anchor="start" >(R = 0.87)</text>
<text x="292.30" y="426.60" font-size="12.2" fill="#0b8a3e" font-weight="bold" text-anchor="start" >0.89±0.30</text>
<text x="406.80" y="426.60" font-size="10.5" fill="#111" text-anchor="start" >(R = 0.83)</text>
<text x="406.80" y="524.60" font-size="10.5" fill="#111" text-anchor="start" >(R = 0.56)</text>
<text x="291.80" y="620.20" font-size="12.2" fill="#111" font-weight="bold" text-anchor="start" >0.25±0.23</text>
<text x="406.80" y="620.20" font-size="10.5" fill="#111" text-anchor="start" >(R = 0.50)</text>
<text x="637.70" y="331.00" font-size="10.5" fill="#111" text-anchor="start" >(R = 0.93)</text>
<text x="637.70" y="424.00" font-size="10.5" fill="#111" text-anchor="start" >(R = 0.75)</text>
<text x="637.70" y="524.60" font-size="10.5" fill="#111" text-anchor="start" >(R = 0.29)</text>
<text x="637.70" y="620.20" font-size="10.5" fill="#111" text-anchor="start" >(R = 0.67)</text>
<line x1="52.30" y1="231.80" x2="52.30" y2="312.80" stroke="#000" stroke-width="1.2"/>
<line x1="49.10" y1="232.30" x2="52.30" y2="232.30" stroke="#000" stroke-width="0.8"/>
<text x="47.30" y="235.20" font-size="9" fill="#000" text-anchor="end" >−50</text>
<line x1="49.10" y1="248.30" x2="52.30" y2="248.30" stroke="#000" stroke-width="0.8"/>
<text x="47.30" y="251.20" font-size="9" fill="#000" text-anchor="end" >−51</text>
<line x1="49.10" y1="264.30" x2="52.30" y2="264.30" stroke="#000" stroke-width="0.8"/>
<text x="47.30" y="267.20" font-size="9" fill="#000" text-anchor="end" >−52</text>
<line x1="49.10" y1="280.30" x2="52.30" y2="280.30" stroke="#000" stroke-width="0.8"/>
<text x="47.30" y="283.20" font-size="9" fill="#000" text-anchor="end" >−53</text>
<line x1="49.10" y1="296.30" x2="52.30" y2="296.30" stroke="#000" stroke-width="0.8"/>
<text x="47.30" y="299.20" font-size="9" fill="#000" text-anchor="end" >−54</text>
<line x1="49.10" y1="312.30" x2="52.30" y2="312.30" stroke="#000" stroke-width="0.8"/>
<text x="47.30" y="315.20" font-size="9" fill="#000" text-anchor="end" >−55</text>
<polyline points="55.10,294.74 60.02,296.50 64.95,305.55 69.87,300.58 74.80,299.71 79.72,300.58 84.64,311.09 89.57,310.22 94.49,301.17 99.42,278.98 104.34,298.83 109.26,290.95 114.19,280.73 119.11,302.34 124.04,264.67 128.96,285.69 133.88,238.98 138.81,302.04 143.73,251.82 148.66,282.19 153.58,264.67 158.50,291.24 163.43,288.91 168.35,288.32 173.28,283.94 178.20,266.42 183.12,286.28 188.05,276.06 192.97,289.49 197.90,306.13" fill="none" stroke="#000000" stroke-width="0.9" stroke-linejoin="round"/>
<circle cx="55.10" cy="294.74" r="2.4" fill="#fff" stroke="#000000" stroke-width="0.8"/>
<circle cx="60.02" cy="296.50" r="2.4" fill="#fff" stroke="#000000" stroke-width="0.8"/>
<circle cx="64.95" cy="305.55" r="2.5" fill="#000000"/>
<circle cx="69.87" cy="300.58" r="2.5" fill="#000000"/>
<circle cx="74.80" cy="299.71" r="2.5" fill="#000000"/>
<circle cx="79.72" cy="300.58" r="2.4" fill="#fff" stroke="#000000" stroke-width="0.8"/>
<circle cx="84.64" cy="311.09" r="2.4" fill="#fff" stroke="#000000" stroke-width="0.8"/>
<circle cx="89.57" cy="310.22" r="2.5" fill="#000000"/>
<circle cx="94.49" cy="301.17" r="2.5" fill="#000000"/>
<circle cx="99.42" cy="278.98" r="2.5" fill="#000000"/>
<circle cx="104.34" cy="298.83" r="2.5" fill="#000000"/>
<circle cx="109.26" cy="290.95" r="2.5" fill="#000000"/>
<circle cx="114.19" cy="280.73" r="2.5" fill="#000000"/>
<circle cx="119.11" cy="302.34" r="2.5" fill="#000000"/>
<circle cx="124.04" cy="264.67" r="2.4" fill="#fff" stroke="#000000" stroke-width="0.8"/>
<circle cx="128.96" cy="285.69" r="2.4" fill="#fff" stroke="#000000" stroke-width="0.8"/>
<circle cx="133.88" cy="238.98" r="2.4" fill="#fff" stroke="#000000" stroke-width="0.8"/>
<circle cx="138.81" cy="302.04" r="2.4" fill="#fff" stroke="#000000" stroke-width="0.8"/>
<circle cx="143.73" cy="251.82" r="2.5" fill="#000000"/>
<circle cx="148.66" cy="282.19" r="2.5" fill="#000000"/>
<circle cx="153.58" cy="264.67" r="2.5" fill="#000000"/>
<circle cx="158.50" cy="291.24" r="2.5" fill="#000000"/>
<circle cx="163.43" cy="288.91" r="2.5" fill="#000000"/>
<circle cx="168.35" cy="288.32" r="2.5" fill="#000000"/>
<circle cx="173.28" cy="283.94" r="2.5" fill="#000000"/>
<circle cx="178.20" cy="266.42" r="2.4" fill="#fff" stroke="#000000" stroke-width="0.8"/>
<circle cx="183.12" cy="286.28" r="2.5" fill="#000000"/>
<circle cx="188.05" cy="276.06" r="2.5" fill="#000000"/>
<circle cx="192.97" cy="289.49" r="2.5" fill="#000000"/>
<circle cx="197.90" cy="306.13" r="2.4" fill="#fff" stroke="#000000" stroke-width="0.8"/>
<line x1="55.11" y1="298.83" x2="197.88" y2="276.93" stroke="#d00000" stroke-width="1.95"/>
<line x1="52.30" y1="328.30" x2="52.30" y2="408.70" stroke="#000" stroke-width="1.2"/>
<line x1="49.10" y1="328.80" x2="52.30" y2="328.80" stroke="#000" stroke-width="0.8"/>
<text x="47.30" y="331.70" font-size="9" fill="#000" text-anchor="end" >−43</text>
<line x1="49.10" y1="344.68" x2="52.30" y2="344.68" stroke="#000" stroke-width="0.8"/>
<text x="47.30" y="347.58" font-size="9" fill="#000" text-anchor="end" >−44</text>
<line x1="49.10" y1="360.56" x2="52.30" y2="360.56" stroke="#000" stroke-width="0.8"/>
<text x="47.30" y="363.46" font-size="9" fill="#000" text-anchor="end" >−45</text>
<line x1="49.10" y1="376.44" x2="52.30" y2="376.44" stroke="#000" stroke-width="0.8"/>
<text x="47.30" y="379.34" font-size="9" fill="#000" text-anchor="end" >−46</text>
<line x1="49.10" y1="392.32" x2="52.30" y2="392.32" stroke="#000" stroke-width="0.8"/>
<text x="47.30" y="395.22" font-size="9" fill="#000" text-anchor="end" >−47</text>
<line x1="49.10" y1="408.20" x2="52.30" y2="408.20" stroke="#000" stroke-width="0.8"/>
<text x="47.30" y="411.10" font-size="9" fill="#000" text-anchor="end" >−48</text>
<polyline points="55.10,398.83 60.02,394.45 64.95,400.29 69.87,391.53 74.80,407.30 79.72,390.66 84.64,403.80 89.57,401.75 94.49,404.09 99.42,370.80 104.34,395.04 109.26,397.96 114.19,385.99 119.11,400.88 124.04,370.22 128.96,388.03 133.88,332.26 138.81,397.96 143.73,361.46 148.66,384.53 153.58,356.79 158.50,390.95 163.43,395.04 168.35,382.48 173.28,383.65 178.20,362.63 183.12,383.94 188.05,368.76 192.97,386.57 197.90,390.95" fill="none" stroke="#000000" stroke-width="0.9" stroke-linejoin="round"/>
<circle cx="55.10" cy="398.83" r="2.4" fill="#fff" stroke="#000000" stroke-width="0.8"/>
<circle cx="60.02" cy="394.45" r="2.5" fill="#000000"/>
<circle cx="64.95" cy="400.29" r="2.5" fill="#000000"/>
<circle cx="69.87" cy="391.53" r="2.5" fill="#000000"/>
<circle cx="74.80" cy="407.30" r="2.5" fill="#000000"/>
<circle cx="79.72" cy="390.66" r="2.5" fill="#000000"/>
<circle cx="84.64" cy="403.80" r="2.5" fill="#000000"/>
<circle cx="89.57" cy="401.75" r="2.5" fill="#000000"/>
<circle cx="94.49" cy="404.09" r="2.4" fill="#fff" stroke="#000000" stroke-width="0.8"/>
<circle cx="99.42" cy="370.80" r="2.5" fill="#000000"/>
<circle cx="104.34" cy="395.04" r="2.5" fill="#000000"/>
<circle cx="109.26" cy="397.96" r="2.5" fill="#000000"/>
<circle cx="114.19" cy="385.99" r="2.4" fill="#fff" stroke="#000000" stroke-width="0.8"/>
<circle cx="119.11" cy="400.88" r="2.4" fill="#fff" stroke="#000000" stroke-width="0.8"/>
<circle cx="124.04" cy="370.22" r="2.4" fill="#fff" stroke="#000000" stroke-width="0.8"/>
<circle cx="128.96" cy="388.03" r="2.4" fill="#fff" stroke="#000000" stroke-width="0.8"/>
<circle cx="133.88" cy="332.26" r="2.4" fill="#fff" stroke="#000000" stroke-width="0.8"/>
<circle cx="138.81" cy="397.96" r="2.5" fill="#000000"/>
<circle cx="143.73" cy="361.46" r="2.5" fill="#000000"/>
<circle cx="148.66" cy="384.53" r="2.5" fill="#000000"/>
<circle cx="153.58" cy="356.79" r="2.5" fill="#000000"/>
<circle cx="158.50" cy="390.95" r="2.5" fill="#000000"/>
<circle cx="163.43" cy="395.04" r="2.5" fill="#000000"/>
<circle cx="168.35" cy="382.48" r="2.5" fill="#000000"/>
<circle cx="173.28" cy="383.65" r="2.5" fill="#000000"/>
<circle cx="178.20" cy="362.63" r="2.5" fill="#000000"/>
<circle cx="183.12" cy="383.94" r="2.5" fill="#000000"/>
<circle cx="188.05" cy="368.76" r="2.5" fill="#000000"/>
<circle cx="192.97" cy="386.57" r="2.5" fill="#000000"/>
<circle cx="197.90" cy="390.95" r="2.5" fill="#000000"/>
<line x1="55.11" y1="398.25" x2="197.88" y2="374.01" stroke="#0505c8" stroke-width="1.95"/>
<line x1="52.30" y1="424.80" x2="52.30" y2="505.80" stroke="#000" stroke-width="1.2"/>
<line x1="49.10" y1="425.30" x2="52.30" y2="425.30" stroke="#000" stroke-width="0.8"/>
<text x="47.30" y="428.20" font-size="9" fill="#000" text-anchor="end" >−29</text>
<line x1="49.10" y1="441.30" x2="52.30" y2="441.30" stroke="#000" stroke-width="0.8"/>
<text x="47.30" y="444.20" font-size="9" fill="#000" text-anchor="end" >−30</text>
<line x1="49.10" y1="457.30" x2="52.30" y2="457.30" stroke="#000" stroke-width="0.8"/>
<text x="47.30" y="460.20" font-size="9" fill="#000" text-anchor="end" >−31</text>
<line x1="49.10" y1="473.30" x2="52.30" y2="473.30" stroke="#000" stroke-width="0.8"/>
<text x="47.30" y="476.20" font-size="9" fill="#000" text-anchor="end" >−32</text>
<line x1="49.10" y1="489.30" x2="52.30" y2="489.30" stroke="#000" stroke-width="0.8"/>
<text x="47.30" y="492.20" font-size="9" fill="#000" text-anchor="end" >−33</text>
<line x1="49.10" y1="505.30" x2="52.30" y2="505.30" stroke="#000" stroke-width="0.8"/>
<text x="47.30" y="508.20" font-size="9" fill="#000" text-anchor="end" >−34</text>
<polyline points="55.10,501.17 60.02,490.07 64.95,481.90 69.87,477.52 74.80,504.09 79.72,485.40 84.64,497.37 89.57,490.66 94.49,498.25 99.42,457.08 104.34,475.47 109.26,478.39 114.19,466.13 119.11,480.73 124.04,450.07 128.96,482.19 133.88,439.85 138.81,492.99 143.73,460.00 148.66,488.61 153.58,448.32 158.50,465.84 163.43,478.39 168.35,458.25 173.28,473.14 178.20,454.16 183.12,445.69 188.05,450.95 192.97,467.30 197.90,467.30" fill="none" stroke="#000000" stroke-width="0.9" stroke-linejoin="round"/>
<circle cx="55.10" cy="501.17" r="2.5" fill="#000000"/>
<circle cx="60.02" cy="490.07" r="2.5" fill="#000000"/>
<circle cx="64.95" cy="481.90" r="2.4" fill="#fff" stroke="#000000" stroke-width="0.8"/>
<circle cx="69.87" cy="477.52" r="2.5" fill="#000000"/>
<circle cx="74.80" cy="504.09" r="2.5" fill="#000000"/>
<circle cx="79.72" cy="485.40" r="2.4" fill="#fff" stroke="#000000" stroke-width="0.8"/>
<circle cx="84.64" cy="497.37" r="2.4" fill="#fff" stroke="#000000" stroke-width="0.8"/>
<circle cx="89.57" cy="490.66" r="2.4" fill="#fff" stroke="#000000" stroke-width="0.8"/>
<circle cx="94.49" cy="498.25" r="2.4" fill="#fff" stroke="#000000" stroke-width="0.8"/>
<circle cx="99.42" cy="457.08" r="2.5" fill="#000000"/>
<circle cx="104.34" cy="475.47" r="2.4" fill="#fff" stroke="#000000" stroke-width="0.8"/>
<circle cx="109.26" cy="478.39" r="2.5" fill="#000000"/>
<circle cx="114.19" cy="466.13" r="2.4" fill="#fff" stroke="#000000" stroke-width="0.8"/>
<circle cx="119.11" cy="480.73" r="2.5" fill="#000000"/>
<circle cx="124.04" cy="450.07" r="2.4" fill="#fff" stroke="#000000" stroke-width="0.8"/>
<circle cx="128.96" cy="482.19" r="2.4" fill="#fff" stroke="#000000" stroke-width="0.8"/>
<circle cx="133.88" cy="439.85" r="2.4" fill="#fff" stroke="#000000" stroke-width="0.8"/>
<circle cx="138.81" cy="492.99" r="2.4" fill="#fff" stroke="#000000" stroke-width="0.8"/>
<circle cx="143.73" cy="460.00" r="2.4" fill="#fff" stroke="#000000" stroke-width="0.8"/>
<circle cx="148.66" cy="488.61" r="2.4" fill="#fff" stroke="#000000" stroke-width="0.8"/>
<circle cx="153.58" cy="448.32" r="2.4" fill="#fff" stroke="#000000" stroke-width="0.8"/>
<circle cx="158.50" cy="465.84" r="2.5" fill="#000000"/>
<circle cx="163.43" cy="478.39" r="2.5" fill="#000000"/>
<circle cx="168.35" cy="458.25" r="2.5" fill="#000000"/>
<circle cx="173.28" cy="473.14" r="2.4" fill="#fff" stroke="#000000" stroke-width="0.8"/>
<circle cx="178.20" cy="454.16" r="2.4" fill="#fff" stroke="#000000" stroke-width="0.8"/>
<circle cx="183.12" cy="445.69" r="2.5" fill="#000000"/>
<circle cx="188.05" cy="450.95" r="2.5" fill="#000000"/>
<circle cx="192.97" cy="467.30" r="2.5" fill="#000000"/>
<circle cx="197.90" cy="467.30" r="2.4" fill="#fff" stroke="#000000" stroke-width="0.8"/>
<line x1="55.11" y1="491.82" x2="197.88" y2="455.33" stroke="#0b8a3e" stroke-width="1.95"/>
<line x1="52.30" y1="521.00" x2="52.30" y2="602.20" stroke="#000" stroke-width="1.2"/>
<line x1="49.10" y1="521.50" x2="52.30" y2="521.50" stroke="#000" stroke-width="0.8"/>
<text x="47.30" y="524.40" font-size="9" fill="#000" text-anchor="end" >−9</text>
<line x1="49.10" y1="548.23" x2="52.30" y2="548.23" stroke="#000" stroke-width="0.8"/>
<text x="47.30" y="551.13" font-size="9" fill="#000" text-anchor="end" >−10</text>
<line x1="49.10" y1="574.97" x2="52.30" y2="574.97" stroke="#000" stroke-width="0.8"/>
<text x="47.30" y="577.87" font-size="9" fill="#000" text-anchor="end" >−11</text>
<line x1="49.10" y1="601.70" x2="52.30" y2="601.70" stroke="#000" stroke-width="0.8"/>
<text x="47.30" y="604.60" font-size="9" fill="#000" text-anchor="end" >−12</text>
<polyline points="55.10,595.88 60.02,556.75 64.95,591.50 69.87,537.48 74.80,573.98 79.72,549.16 84.64,585.95 89.57,572.52 94.49,580.11 99.42,533.98 104.34,522.01 109.26,548.28 114.19,542.15 119.11,575.73 124.04,536.61 128.96,587.41 133.88,556.46 138.81,587.99 143.73,562.88 148.66,585.66 153.58,544.78 158.50,580.99 163.43,580.99 168.35,534.56 173.28,547.12 178.20,554.12 183.12,535.44 188.05,555.88 192.97,560.55 197.90,545.07" fill="none" stroke="#000000" stroke-width="0.9" stroke-linejoin="round"/>
<line x1="55.11" y1="569.01" x2="197.88" y2="552.37" stroke="#8f8f8f" stroke-width="1.6" stroke-dasharray="4,2"/>
<circle cx="55.10" cy="595.88" r="2.5" fill="#000000"/>
<circle cx="60.02" cy="556.75" r="2.5" fill="#000000"/>
<circle cx="64.95" cy="591.50" r="2.5" fill="#000000"/>
<circle cx="69.87" cy="537.48" r="2.5" fill="#000000"/>
<circle cx="74.80" cy="573.98" r="2.5" fill="#000000"/>
<circle cx="79.72" cy="549.16" r="2.5" fill="#000000"/>
<circle cx="84.64" cy="585.95" r="2.5" fill="#000000"/>
<circle cx="89.57" cy="572.52" r="2.5" fill="#000000"/>
<circle cx="94.49" cy="580.11" r="2.5" fill="#000000"/>
<circle cx="99.42" cy="533.98" r="2.5" fill="#000000"/>
<circle cx="104.34" cy="522.01" r="2.5" fill="#000000"/>
<circle cx="109.26" cy="548.28" r="2.5" fill="#000000"/>
<circle cx="114.19" cy="542.15" r="2.5" fill="#000000"/>
<circle cx="119.11" cy="575.73" r="2.5" fill="#000000"/>
<circle cx="124.04" cy="536.61" r="2.5" fill="#000000"/>
<circle cx="128.96" cy="587.41" r="2.5" fill="#000000"/>
<circle cx="133.88" cy="556.46" r="2.5" fill="#000000"/>
<circle cx="138.81" cy="587.99" r="2.5" fill="#000000"/>
<circle cx="143.73" cy="562.88" r="2.5" fill="#000000"/>
<circle cx="148.66" cy="585.66" r="2.5" fill="#000000"/>
<circle cx="153.58" cy="544.78" r="2.5" fill="#000000"/>
<circle cx="158.50" cy="580.99" r="2.5" fill="#000000"/>
<circle cx="163.43" cy="580.99" r="2.5" fill="#000000"/>
<circle cx="168.35" cy="534.56" r="2.5" fill="#000000"/>
<circle cx="173.28" cy="547.12" r="2.5" fill="#000000"/>
<circle cx="178.20" cy="554.12" r="2.5" fill="#000000"/>
<circle cx="183.12" cy="535.44" r="2.5" fill="#000000"/>
<circle cx="188.05" cy="555.88" r="2.5" fill="#000000"/>
<circle cx="192.97" cy="560.55" r="2.5" fill="#000000"/>
<circle cx="197.90" cy="545.07" r="2.5" fill="#000000"/>
<line x1="52.30" y1="617.70" x2="52.30" y2="698.70" stroke="#000" stroke-width="1.2"/>
<line x1="49.10" y1="618.20" x2="52.30" y2="618.20" stroke="#000" stroke-width="0.8"/>
<text x="47.30" y="621.10" font-size="9" fill="#000" text-anchor="end" >−9</text>
<line x1="49.10" y1="638.20" x2="52.30" y2="638.20" stroke="#000" stroke-width="0.8"/>
<text x="47.30" y="641.10" font-size="9" fill="#000" text-anchor="end" >−10</text>
<line x1="49.10" y1="658.20" x2="52.30" y2="658.20" stroke="#000" stroke-width="0.8"/>
<text x="47.30" y="661.10" font-size="9" fill="#000" text-anchor="end" >−11</text>
<line x1="49.10" y1="678.20" x2="52.30" y2="678.20" stroke="#000" stroke-width="0.8"/>
<text x="47.30" y="681.10" font-size="9" fill="#000" text-anchor="end" >−12</text>
<line x1="49.10" y1="698.20" x2="52.30" y2="698.20" stroke="#000" stroke-width="0.8"/>
<text x="47.30" y="701.10" font-size="9" fill="#000" text-anchor="end" >−13</text>
<polyline points="55.10,697.30 60.02,666.93 64.95,658.47 69.87,652.34 74.80,671.61 79.72,673.65 84.64,677.45 89.57,659.34 94.49,664.31 99.42,647.08 104.34,660.22 109.26,666.06 114.19,658.76 119.11,664.89 124.04,633.94 128.96,674.23 133.88,645.62 138.81,670.15 143.73,653.50 148.66,675.40 153.58,653.80 158.50,662.55 163.43,686.50 168.35,669.27 173.28,667.52" fill="none" stroke="#000000" stroke-width="0.9" stroke-linejoin="round"/>
<polyline points="188.05,638.32 192.97,652.34 197.90,650.00" fill="none" stroke="#000000" stroke-width="0.9" stroke-linejoin="round"/>
<line x1="55.11" y1="669.85" x2="197.88" y2="654.67" stroke="#8f8f8f" stroke-width="1.6" stroke-dasharray="4,2"/>
<circle cx="55.10" cy="697.30" r="2.5" fill="#000000"/>
<circle cx="60.02" cy="666.93" r="2.5" fill="#000000"/>
<circle cx="64.95" cy="658.47" r="2.5" fill="#000000"/>
<circle cx="69.87" cy="652.34" r="2.5" fill="#000000"/>
<circle cx="74.80" cy="671.61" r="2.5" fill="#000000"/>
<circle cx="79.72" cy="673.65" r="2.5" fill="#000000"/>
<circle cx="84.64" cy="677.45" r="2.5" fill="#000000"/>
<circle cx="89.57" cy="659.34" r="2.5" fill="#000000"/>
<circle cx="94.49" cy="664.31" r="2.5" fill="#000000"/>
<circle cx="99.42" cy="647.08" r="2.5" fill="#000000"/>
<circle cx="104.34" cy="660.22" r="2.5" fill="#000000"/>
<circle cx="109.26" cy="666.06" r="2.5" fill="#000000"/>
<circle cx="114.19" cy="658.76" r="2.5" fill="#000000"/>
<circle cx="119.11" cy="664.89" r="2.5" fill="#000000"/>
<circle cx="124.04" cy="633.94" r="2.5" fill="#000000"/>
<circle cx="128.96" cy="674.23" r="2.5" fill="#000000"/>
<circle cx="133.88" cy="645.62" r="2.5" fill="#000000"/>
<circle cx="138.81" cy="670.15" r="2.5" fill="#000000"/>
<circle cx="143.73" cy="653.50" r="2.5" fill="#000000"/>
<circle cx="148.66" cy="675.40" r="2.5" fill="#000000"/>
<circle cx="153.58" cy="653.80" r="2.5" fill="#000000"/>
<circle cx="158.50" cy="662.55" r="2.5" fill="#000000"/>
<circle cx="163.43" cy="686.50" r="2.5" fill="#000000"/>
<circle cx="168.35" cy="669.27" r="2.5" fill="#000000"/>
<circle cx="173.28" cy="667.52" r="2.5" fill="#000000"/>
<circle cx="188.05" cy="638.32" r="2.5" fill="#000000"/>
<circle cx="192.97" cy="652.34" r="2.5" fill="#000000"/>
<circle cx="197.90" cy="650.00" r="2.5" fill="#000000"/>
<line x1="285.60" y1="230.10" x2="285.60" y2="311.50" stroke="#000" stroke-width="1.2"/>
<line x1="282.40" y1="230.60" x2="285.60" y2="230.60" stroke="#000" stroke-width="0.8"/>
<text x="280.60" y="233.50" font-size="9" fill="#000" text-anchor="end" >−42</text>
<line x1="282.40" y1="253.70" x2="285.60" y2="253.70" stroke="#000" stroke-width="0.8"/>
<text x="280.60" y="256.60" font-size="9" fill="#000" text-anchor="end" >−44</text>
<line x1="282.40" y1="276.80" x2="285.60" y2="276.80" stroke="#000" stroke-width="0.8"/>
<text x="280.60" y="279.70" font-size="9" fill="#000" text-anchor="end" >−46</text>
<line x1="282.40" y1="299.90" x2="285.60" y2="299.90" stroke="#000" stroke-width="0.8"/>
<text x="280.60" y="302.80" font-size="9" fill="#000" text-anchor="end" >−48</text>
<line x1="283.80" y1="242.15" x2="285.60" y2="242.15" stroke="#000" stroke-width="0.8"/>
<line x1="283.80" y1="265.25" x2="285.60" y2="265.25" stroke="#000" stroke-width="0.8"/>
<line x1="283.80" y1="288.35" x2="285.60" y2="288.35" stroke="#000" stroke-width="0.8"/>
<line x1="283.80" y1="311.45" x2="285.60" y2="311.45" stroke="#000" stroke-width="0.8"/>
<polyline points="292.60,272.85 297.56,268.18 302.51,271.97 307.47,263.50 312.42,265.84 317.38,303.80 322.34,269.64 327.29,265.84 332.25,258.25 337.20,250.36 342.16,241.31 347.12,256.79 352.07,261.17 357.03,251.82 361.98,243.94 366.94,249.49 371.90,251.53 376.85,255.91 381.81,239.85 386.76,250.36 391.72,259.12 396.68,241.31 401.63,240.15 406.59,239.27 411.54,238.98 416.50,249.49 421.46,254.74 426.41,237.52" fill="none" stroke="#fcba1e" stroke-width="0.85" stroke-linejoin="round"/>
<circle cx="292.60" cy="272.85" r="2.4" fill="#fff" stroke="#fcba1e" stroke-width="0.8"/>
<circle cx="297.56" cy="268.18" r="2.5" fill="#fcba1e"/>
<circle cx="302.51" cy="271.97" r="2.5" fill="#fcba1e"/>
<circle cx="307.47" cy="263.50" r="2.4" fill="#fff" stroke="#fcba1e" stroke-width="0.8"/>
<circle cx="312.42" cy="265.84" r="2.4" fill="#fff" stroke="#fcba1e" stroke-width="0.8"/>
<circle cx="317.38" cy="303.80" r="2.4" fill="#fff" stroke="#fcba1e" stroke-width="0.8"/>
<circle cx="322.34" cy="269.64" r="2.4" fill="#fff" stroke="#fcba1e" stroke-width="0.8"/>
<circle cx="327.29" cy="265.84" r="2.5" fill="#fcba1e"/>
<circle cx="332.25" cy="258.25" r="2.4" fill="#fff" stroke="#fcba1e" stroke-width="0.8"/>
<circle cx="337.20" cy="250.36" r="2.5" fill="#fcba1e"/>
<circle cx="342.16" cy="241.31" r="2.5" fill="#fcba1e"/>
<circle cx="347.12" cy="256.79" r="2.5" fill="#fcba1e"/>
<circle cx="352.07" cy="261.17" r="2.4" fill="#fff" stroke="#fcba1e" stroke-width="0.8"/>
<circle cx="357.03" cy="251.82" r="2.4" fill="#fff" stroke="#fcba1e" stroke-width="0.8"/>
<circle cx="361.98" cy="243.94" r="2.4" fill="#fff" stroke="#fcba1e" stroke-width="0.8"/>
<circle cx="366.94" cy="249.49" r="2.4" fill="#fff" stroke="#fcba1e" stroke-width="0.8"/>
<circle cx="371.90" cy="251.53" r="2.4" fill="#fff" stroke="#fcba1e" stroke-width="0.8"/>
<circle cx="376.85" cy="255.91" r="2.5" fill="#fcba1e"/>
<circle cx="381.81" cy="239.85" r="2.5" fill="#fcba1e"/>
<circle cx="386.76" cy="250.36" r="2.5" fill="#fcba1e"/>
<circle cx="391.72" cy="259.12" r="2.5" fill="#fcba1e"/>
<circle cx="396.68" cy="241.31" r="2.5" fill="#fcba1e"/>
<circle cx="401.63" cy="240.15" r="2.5" fill="#fcba1e"/>
<circle cx="406.59" cy="239.27" r="2.4" fill="#fff" stroke="#fcba1e" stroke-width="0.8"/>
<circle cx="411.54" cy="238.98" r="2.5" fill="#fcba1e"/>
<circle cx="416.50" cy="249.49" r="2.4" fill="#fff" stroke="#fcba1e" stroke-width="0.8"/>
<circle cx="421.46" cy="254.74" r="2.5" fill="#fcba1e"/>
<circle cx="426.41" cy="237.52" r="2.4" fill="#fff" stroke="#fcba1e" stroke-width="0.8"/>
<line x1="287.37" y1="273.72" x2="431.02" y2="237.81" stroke="#d00000" stroke-width="1.95"/>
<line x1="285.60" y1="326.80" x2="285.60" y2="408.05" stroke="#000" stroke-width="1.2"/>
<line x1="282.40" y1="327.30" x2="285.60" y2="327.30" stroke="#000" stroke-width="0.8"/>
<text x="280.60" y="330.20" font-size="9" fill="#000" text-anchor="end" >−36</text>
<line x1="282.40" y1="359.40" x2="285.60" y2="359.40" stroke="#000" stroke-width="0.8"/>
<text x="280.60" y="362.30" font-size="9" fill="#000" text-anchor="end" >−38</text>
<line x1="282.40" y1="391.50" x2="285.60" y2="391.50" stroke="#000" stroke-width="0.8"/>
<text x="280.60" y="394.40" font-size="9" fill="#000" text-anchor="end" >−40</text>
<line x1="283.80" y1="343.35" x2="285.60" y2="343.35" stroke="#000" stroke-width="0.8"/>
<line x1="283.80" y1="375.45" x2="285.60" y2="375.45" stroke="#000" stroke-width="0.8"/>
<line x1="283.80" y1="407.55" x2="285.60" y2="407.55" stroke="#000" stroke-width="0.8"/>
<polyline points="292.60,370.18 297.56,369.01 302.51,374.27 307.47,359.38 312.42,369.60 317.38,398.80 322.34,376.90 327.29,364.05 332.25,358.80 337.20,351.20 342.16,341.57 347.12,377.19 352.07,380.11 357.03,371.93 361.98,338.65 366.94,353.83 371.90,355.29 376.85,363.47 381.81,336.90 386.76,340.11 391.72,367.55 396.68,345.36 401.63,331.64 406.59,340.40 411.54,350.62 416.50,345.36 421.46,357.34 426.41,341.28" fill="none" stroke="#fcba1e" stroke-width="0.85" stroke-linejoin="round"/>
<circle cx="292.60" cy="370.18" r="2.4" fill="#fff" stroke="#fcba1e" stroke-width="0.8"/>
<circle cx="297.56" cy="369.01" r="2.5" fill="#fcba1e"/>
<circle cx="302.51" cy="374.27" r="2.5" fill="#fcba1e"/>
<circle cx="307.47" cy="359.38" r="2.5" fill="#fcba1e"/>
<circle cx="312.42" cy="369.60" r="2.5" fill="#fcba1e"/>
<circle cx="317.38" cy="398.80" r="2.5" fill="#fcba1e"/>
<circle cx="322.34" cy="376.90" r="2.4" fill="#fff" stroke="#fcba1e" stroke-width="0.8"/>
<circle cx="327.29" cy="364.05" r="2.5" fill="#fcba1e"/>
<circle cx="332.25" cy="358.80" r="2.5" fill="#fcba1e"/>
<circle cx="337.20" cy="351.20" r="2.5" fill="#fcba1e"/>
<circle cx="342.16" cy="341.57" r="2.5" fill="#fcba1e"/>
<circle cx="347.12" cy="377.19" r="2.4" fill="#fff" stroke="#fcba1e" stroke-width="0.8"/>
<circle cx="352.07" cy="380.11" r="2.4" fill="#fff" stroke="#fcba1e" stroke-width="0.8"/>
<circle cx="357.03" cy="371.93" r="2.4" fill="#fff" stroke="#fcba1e" stroke-width="0.8"/>
<circle cx="361.98" cy="338.65" r="2.4" fill="#fff" stroke="#fcba1e" stroke-width="0.8"/>
<circle cx="366.94" cy="353.83" r="2.4" fill="#fff" stroke="#fcba1e" stroke-width="0.8"/>
<circle cx="371.90" cy="355.29" r="2.5" fill="#fcba1e"/>
<circle cx="376.85" cy="363.47" r="2.5" fill="#fcba1e"/>
<circle cx="381.81" cy="336.90" r="2.5" fill="#fcba1e"/>
<circle cx="386.76" cy="340.11" r="2.5" fill="#fcba1e"/>
<circle cx="391.72" cy="367.55" r="2.5" fill="#fcba1e"/>
<circle cx="396.68" cy="345.36" r="2.5" fill="#fcba1e"/>
<circle cx="401.63" cy="331.64" r="2.5" fill="#fcba1e"/>
<circle cx="406.59" cy="340.40" r="2.5" fill="#fcba1e"/>
<circle cx="411.54" cy="350.62" r="2.4" fill="#fff" stroke="#fcba1e" stroke-width="0.8"/>
<circle cx="416.50" cy="345.36" r="2.5" fill="#fcba1e"/>
<circle cx="421.46" cy="357.34" r="2.5" fill="#fcba1e"/>
<circle cx="426.41" cy="341.28" r="2.5" fill="#fcba1e"/>
<line x1="287.96" y1="376.02" x2="431.02" y2="340.69" stroke="#0505c8" stroke-width="1.95"/>
<line x1="285.60" y1="423.20" x2="285.60" y2="504.20" stroke="#000" stroke-width="1.2"/>
<line x1="282.40" y1="436.30" x2="285.60" y2="436.30" stroke="#000" stroke-width="0.8"/>
<text x="280.60" y="439.20" font-size="9" fill="#000" text-anchor="end" >−24</text>
<line x1="282.40" y1="463.60" x2="285.60" y2="463.60" stroke="#000" stroke-width="0.8"/>
<text x="280.60" y="466.50" font-size="9" fill="#000" text-anchor="end" >−26</text>
<line x1="282.40" y1="490.90" x2="285.60" y2="490.90" stroke="#000" stroke-width="0.8"/>
<text x="280.60" y="493.80" font-size="9" fill="#000" text-anchor="end" >−28</text>
<line x1="283.80" y1="449.95" x2="285.60" y2="449.95" stroke="#000" stroke-width="0.8"/>
<line x1="283.80" y1="477.25" x2="285.60" y2="477.25" stroke="#000" stroke-width="0.8"/>
<polyline points="292.60,464.89 297.56,470.73 302.51,469.27 307.47,463.72 312.42,465.18 317.38,492.04 322.34,468.98 327.29,461.09 332.25,452.63 337.20,455.55 342.16,435.69 347.12,464.60 352.07,459.05 357.03,463.43 361.98,454.67 366.94,445.04 371.90,449.42 376.85,471.02 381.81,435.11 386.76,433.65 391.72,453.50 396.68,445.91 401.63,424.60 406.59,437.74 411.54,449.12 416.50,427.23 421.46,448.83 426.41,438.32" fill="none" stroke="#fcba1e" stroke-width="0.85" stroke-linejoin="round"/>
<circle cx="292.60" cy="464.89" r="2.4" fill="#fff" stroke="#fcba1e" stroke-width="0.8"/>
<circle cx="297.56" cy="470.73" r="2.4" fill="#fff" stroke="#fcba1e" stroke-width="0.8"/>
<circle cx="302.51" cy="469.27" r="2.5" fill="#fcba1e"/>
<circle cx="307.47" cy="463.72" r="2.4" fill="#fff" stroke="#fcba1e" stroke-width="0.8"/>
<circle cx="312.42" cy="465.18" r="2.4" fill="#fff" stroke="#fcba1e" stroke-width="0.8"/>
<circle cx="317.38" cy="492.04" r="2.4" fill="#fff" stroke="#fcba1e" stroke-width="0.8"/>
<circle cx="322.34" cy="468.98" r="2.4" fill="#fff" stroke="#fcba1e" stroke-width="0.8"/>
<circle cx="327.29" cy="461.09" r="2.5" fill="#fcba1e"/>
<circle cx="332.25" cy="452.63" r="2.4" fill="#fff" stroke="#fcba1e" stroke-width="0.8"/>
<circle cx="337.20" cy="455.55" r="2.4" fill="#fff" stroke="#fcba1e" stroke-width="0.8"/>
<circle cx="342.16" cy="435.69" r="2.4" fill="#fff" stroke="#fcba1e" stroke-width="0.8"/>
<circle cx="347.12" cy="464.60" r="2.4" fill="#fff" stroke="#fcba1e" stroke-width="0.8"/>
<circle cx="352.07" cy="459.05" r="2.4" fill="#fff" stroke="#fcba1e" stroke-width="0.8"/>
<circle cx="357.03" cy="463.43" r="2.4" fill="#fff" stroke="#fcba1e" stroke-width="0.8"/>
<circle cx="361.98" cy="454.67" r="2.4" fill="#fff" stroke="#fcba1e" stroke-width="0.8"/>
<circle cx="366.94" cy="445.04" r="2.4" fill="#fff" stroke="#fcba1e" stroke-width="0.8"/>
<circle cx="371.90" cy="449.42" r="2.4" fill="#fff" stroke="#fcba1e" stroke-width="0.8"/>
<circle cx="376.85" cy="471.02" r="2.4" fill="#fff" stroke="#fcba1e" stroke-width="0.8"/>
<circle cx="381.81" cy="435.11" r="2.4" fill="#fff" stroke="#fcba1e" stroke-width="0.8"/>
<circle cx="386.76" cy="433.65" r="2.4" fill="#fff" stroke="#fcba1e" stroke-width="0.8"/>
<circle cx="391.72" cy="453.50" r="2.5" fill="#fcba1e"/>
<circle cx="396.68" cy="445.91" r="2.5" fill="#fcba1e"/>
<circle cx="401.63" cy="424.60" r="2.5" fill="#fcba1e"/>
<circle cx="406.59" cy="437.74" r="2.4" fill="#fff" stroke="#fcba1e" stroke-width="0.8"/>
<circle cx="411.54" cy="449.12" r="2.4" fill="#fff" stroke="#fcba1e" stroke-width="0.8"/>
<circle cx="416.50" cy="427.23" r="2.4" fill="#fff" stroke="#fcba1e" stroke-width="0.8"/>
<circle cx="421.46" cy="448.83" r="2.5" fill="#fcba1e"/>
<circle cx="426.41" cy="438.32" r="2.5" fill="#fcba1e"/>
<line x1="287.96" y1="473.07" x2="431.02" y2="434.23" stroke="#0b8a3e" stroke-width="1.95"/>
<line x1="285.60" y1="519.70" x2="285.60" y2="601.00" stroke="#000" stroke-width="1.2"/>
<line x1="282.40" y1="520.20" x2="285.60" y2="520.20" stroke="#000" stroke-width="0.8"/>
<text x="280.60" y="523.10" font-size="9" fill="#000" text-anchor="end" >−3</text>
<line x1="282.40" y1="536.26" x2="285.60" y2="536.26" stroke="#000" stroke-width="0.8"/>
<text x="280.60" y="539.16" font-size="9" fill="#000" text-anchor="end" >−4</text>
<line x1="282.40" y1="552.32" x2="285.60" y2="552.32" stroke="#000" stroke-width="0.8"/>
<text x="280.60" y="555.22" font-size="9" fill="#000" text-anchor="end" >−5</text>
<line x1="282.40" y1="568.38" x2="285.60" y2="568.38" stroke="#000" stroke-width="0.8"/>
<text x="280.60" y="571.28" font-size="9" fill="#000" text-anchor="end" >−6</text>
<line x1="282.40" y1="584.44" x2="285.60" y2="584.44" stroke="#000" stroke-width="0.8"/>
<text x="280.60" y="587.34" font-size="9" fill="#000" text-anchor="end" >−7</text>
<line x1="282.40" y1="600.50" x2="285.60" y2="600.50" stroke="#000" stroke-width="0.8"/>
<text x="280.60" y="603.40" font-size="9" fill="#000" text-anchor="end" >−8</text>
<polyline points="292.60,566.35 297.56,559.34 302.51,548.25 307.47,545.04 312.42,566.35 317.38,587.96 322.34,551.75 327.29,567.52 332.25,544.16 337.20,541.53 342.16,543.28 347.12,567.81 352.07,565.77 357.03,554.09 361.98,569.27 366.94,550.29 371.90,567.81 376.85,574.23 381.81,536.57 386.76,545.33 391.72,570.73 396.68,555.55 401.63,535.11 406.59,543.28 411.54,564.01 416.50,537.45 421.46,559.34 426.41,547.96" fill="none" stroke="#fcba1e" stroke-width="0.85" stroke-linejoin="round"/>
<line x1="287.96" y1="561.97" x2="431.02" y2="550.00" stroke="#8f8f8f" stroke-width="1.6" stroke-dasharray="4,2"/>
<circle cx="292.60" cy="566.35" r="2.5" fill="#fcba1e"/>
<circle cx="297.56" cy="559.34" r="2.5" fill="#fcba1e"/>
<circle cx="302.51" cy="548.25" r="2.5" fill="#fcba1e"/>
<circle cx="307.47" cy="545.04" r="2.5" fill="#fcba1e"/>
<circle cx="312.42" cy="566.35" r="2.5" fill="#fcba1e"/>
<circle cx="317.38" cy="587.96" r="2.5" fill="#fcba1e"/>
<circle cx="322.34" cy="551.75" r="2.5" fill="#fcba1e"/>
<circle cx="327.29" cy="567.52" r="2.5" fill="#fcba1e"/>
<circle cx="332.25" cy="544.16" r="2.5" fill="#fcba1e"/>
<circle cx="337.20" cy="541.53" r="2.5" fill="#fcba1e"/>
<circle cx="342.16" cy="543.28" r="2.5" fill="#fcba1e"/>
<circle cx="347.12" cy="567.81" r="2.5" fill="#fcba1e"/>
<circle cx="352.07" cy="565.77" r="2.5" fill="#fcba1e"/>
<circle cx="357.03" cy="554.09" r="2.5" fill="#fcba1e"/>
<circle cx="361.98" cy="569.27" r="2.5" fill="#fcba1e"/>
<circle cx="366.94" cy="550.29" r="2.5" fill="#fcba1e"/>
<circle cx="371.90" cy="567.81" r="2.5" fill="#fcba1e"/>
<circle cx="376.85" cy="574.23" r="2.5" fill="#fcba1e"/>
<circle cx="381.81" cy="536.57" r="2.5" fill="#fcba1e"/>
<circle cx="386.76" cy="545.33" r="2.5" fill="#fcba1e"/>
<circle cx="391.72" cy="570.73" r="2.5" fill="#fcba1e"/>
<circle cx="396.68" cy="555.55" r="2.5" fill="#fcba1e"/>
<circle cx="401.63" cy="535.11" r="2.5" fill="#fcba1e"/>
<circle cx="406.59" cy="543.28" r="2.5" fill="#fcba1e"/>
<circle cx="411.54" cy="564.01" r="2.5" fill="#fcba1e"/>
<circle cx="416.50" cy="537.45" r="2.5" fill="#fcba1e"/>
<circle cx="421.46" cy="559.34" r="2.5" fill="#fcba1e"/>
<circle cx="426.41" cy="547.96" r="2.5" fill="#fcba1e"/>
<line x1="285.60" y1="616.20" x2="285.60" y2="696.90" stroke="#000" stroke-width="1.2"/>
<line x1="282.40" y1="616.70" x2="285.60" y2="616.70" stroke="#000" stroke-width="0.8"/>
<text x="280.60" y="619.60" font-size="9" fill="#000" text-anchor="end" >−4</text>
<line x1="282.40" y1="643.27" x2="285.60" y2="643.27" stroke="#000" stroke-width="0.8"/>
<text x="280.60" y="646.17" font-size="9" fill="#000" text-anchor="end" >−5</text>
<line x1="282.40" y1="669.83" x2="285.60" y2="669.83" stroke="#000" stroke-width="0.8"/>
<text x="280.60" y="672.73" font-size="9" fill="#000" text-anchor="end" >−6</text>
<line x1="282.40" y1="696.40" x2="285.60" y2="696.40" stroke="#000" stroke-width="0.8"/>
<text x="280.60" y="699.30" font-size="9" fill="#000" text-anchor="end" >−7</text>
<polyline points="292.60,674.20 297.56,659.01 302.51,647.34 307.47,666.02 312.42,667.48 317.38,687.63 322.34,665.15 327.29,655.80 332.25,639.74 337.20,654.34 342.16,636.24 347.12,659.60 352.07,668.07 357.03,667.19 361.98,667.48 366.94,645.00 371.90,671.57 376.85,684.42 381.81,652.59 386.76,649.09 391.72,655.80 396.68,668.94 401.63,628.94 406.59,662.81" fill="none" stroke="#fcba1e" stroke-width="0.85" stroke-linejoin="round"/>
<polyline points="416.50,643.25 421.46,652.01 426.41,645.00" fill="none" stroke="#fcba1e" stroke-width="0.85" stroke-linejoin="round"/>
<circle cx="292.60" cy="674.20" r="2.5" fill="#fcba1e"/>
<circle cx="297.56" cy="659.01" r="2.5" fill="#fcba1e"/>
<circle cx="302.51" cy="647.34" r="2.5" fill="#fcba1e"/>
<circle cx="307.47" cy="666.02" r="2.5" fill="#fcba1e"/>
<circle cx="312.42" cy="667.48" r="2.5" fill="#fcba1e"/>
<circle cx="317.38" cy="687.63" r="2.5" fill="#fcba1e"/>
<circle cx="322.34" cy="665.15" r="2.5" fill="#fcba1e"/>
<circle cx="327.29" cy="655.80" r="2.5" fill="#fcba1e"/>
<circle cx="332.25" cy="639.74" r="2.5" fill="#fcba1e"/>
<circle cx="337.20" cy="654.34" r="2.5" fill="#fcba1e"/>
<circle cx="342.16" cy="636.24" r="2.5" fill="#fcba1e"/>
<circle cx="347.12" cy="659.60" r="2.5" fill="#fcba1e"/>
<circle cx="352.07" cy="668.07" r="2.5" fill="#fcba1e"/>
<circle cx="357.03" cy="667.19" r="2.5" fill="#fcba1e"/>
<circle cx="361.98" cy="667.48" r="2.5" fill="#fcba1e"/>
<circle cx="366.94" cy="645.00" r="2.5" fill="#fcba1e"/>
<circle cx="371.90" cy="671.57" r="2.5" fill="#fcba1e"/>
<circle cx="376.85" cy="684.42" r="2.5" fill="#fcba1e"/>
<circle cx="381.81" cy="652.59" r="2.5" fill="#fcba1e"/>
<circle cx="386.76" cy="649.09" r="2.5" fill="#fcba1e"/>
<circle cx="391.72" cy="655.80" r="2.5" fill="#fcba1e"/>
<circle cx="396.68" cy="668.94" r="2.5" fill="#fcba1e"/>
<circle cx="401.63" cy="628.94" r="2.5" fill="#fcba1e"/>
<circle cx="406.59" cy="662.81" r="2.5" fill="#fcba1e"/>
<circle cx="416.50" cy="643.25" r="2.5" fill="#fcba1e"/>
<circle cx="421.46" cy="652.01" r="2.5" fill="#fcba1e"/>
<circle cx="426.41" cy="645.00" r="2.5" fill="#fcba1e"/>
<line x1="287.96" y1="666.02" x2="431.02" y2="650.26" stroke="#8f8f8f" stroke-width="1.95"/>
<line x1="516.00" y1="230.16" x2="516.00" y2="311.60" stroke="#000" stroke-width="1.2"/>
<line x1="512.80" y1="239.60" x2="516.00" y2="239.60" stroke="#000" stroke-width="0.8"/>
<text x="511.00" y="242.50" font-size="9" fill="#000" text-anchor="end" >−58</text>
<line x1="512.80" y1="257.48" x2="516.00" y2="257.48" stroke="#000" stroke-width="0.8"/>
<text x="511.00" y="260.38" font-size="9" fill="#000" text-anchor="end" >−60</text>
<line x1="512.80" y1="275.35" x2="516.00" y2="275.35" stroke="#000" stroke-width="0.8"/>
<text x="511.00" y="278.25" font-size="9" fill="#000" text-anchor="end" >−62</text>
<line x1="512.80" y1="293.23" x2="516.00" y2="293.23" stroke="#000" stroke-width="0.8"/>
<text x="511.00" y="296.12" font-size="9" fill="#000" text-anchor="end" >−64</text>
<line x1="512.80" y1="311.10" x2="516.00" y2="311.10" stroke="#000" stroke-width="0.8"/>
<text x="511.00" y="314.00" font-size="9" fill="#000" text-anchor="end" >−66</text>
<line x1="514.20" y1="230.66" x2="516.00" y2="230.66" stroke="#000" stroke-width="0.8"/>
<line x1="514.20" y1="248.54" x2="516.00" y2="248.54" stroke="#000" stroke-width="0.8"/>
<line x1="514.20" y1="266.41" x2="516.00" y2="266.41" stroke="#000" stroke-width="0.8"/>
<line x1="514.20" y1="284.29" x2="516.00" y2="284.29" stroke="#000" stroke-width="0.8"/>
<line x1="514.20" y1="302.16" x2="516.00" y2="302.16" stroke="#000" stroke-width="0.8"/>
<polyline points="523.20,273.43 528.13,286.57 533.06,288.03 538.00,293.28 542.93,279.27 547.86,283.94 552.79,283.65 557.72,288.03 562.66,264.96 567.59,292.41 572.52,302.34 577.45,281.02 582.38,291.82 587.32,250.66 592.25,280.15 597.18,238.39 602.11,297.08 607.04,251.24 611.98,285.69 616.91,267.01 621.84,278.10 626.77,292.70 631.70,291.82 636.64,287.74 641.57,265.26 646.50,298.83 651.43,266.13 656.36,288.91 661.30,301.46" fill="none" stroke="#2490fa" stroke-width="0.85" stroke-linejoin="round"/>
<line x1="517.96" y1="281.02" x2="661.02" y2="281.02" stroke="#d00000" stroke-width="1.6" stroke-dasharray="4,2"/>
<circle cx="523.20" cy="273.43" r="2.5" fill="#2490fa"/>
<circle cx="528.13" cy="286.57" r="2.5" fill="#2490fa"/>
<circle cx="533.06" cy="288.03" r="2.5" fill="#2490fa"/>
<circle cx="538.00" cy="293.28" r="2.5" fill="#2490fa"/>
<circle cx="542.93" cy="279.27" r="2.5" fill="#2490fa"/>
<circle cx="547.86" cy="283.94" r="2.4" fill="#fff" stroke="#2490fa" stroke-width="0.8"/>
<circle cx="552.79" cy="283.65" r="2.5" fill="#2490fa"/>
<circle cx="557.72" cy="288.03" r="2.5" fill="#2490fa"/>
<circle cx="562.66" cy="264.96" r="2.5" fill="#2490fa"/>
<circle cx="567.59" cy="292.41" r="2.5" fill="#2490fa"/>
<circle cx="572.52" cy="302.34" r="2.5" fill="#2490fa"/>
<circle cx="577.45" cy="281.02" r="2.5" fill="#2490fa"/>
<circle cx="582.38" cy="291.82" r="2.5" fill="#2490fa"/>
<circle cx="587.32" cy="250.66" r="2.4" fill="#fff" stroke="#2490fa" stroke-width="0.8"/>
<circle cx="592.25" cy="280.15" r="2.4" fill="#fff" stroke="#2490fa" stroke-width="0.8"/>
<circle cx="597.18" cy="238.39" r="2.4" fill="#fff" stroke="#2490fa" stroke-width="0.8"/>
<circle cx="602.11" cy="297.08" r="2.4" fill="#fff" stroke="#2490fa" stroke-width="0.8"/>
<circle cx="607.04" cy="251.24" r="2.5" fill="#2490fa"/>
<circle cx="611.98" cy="285.69" r="2.5" fill="#2490fa"/>
<circle cx="616.91" cy="267.01" r="2.5" fill="#2490fa"/>
<circle cx="621.84" cy="278.10" r="2.5" fill="#2490fa"/>
<circle cx="626.77" cy="292.70" r="2.5" fill="#2490fa"/>
<circle cx="631.70" cy="291.82" r="2.5" fill="#2490fa"/>
<circle cx="636.64" cy="287.74" r="2.5" fill="#2490fa"/>
<circle cx="641.57" cy="265.26" r="2.5" fill="#2490fa"/>
<circle cx="646.50" cy="298.83" r="2.5" fill="#2490fa"/>
<circle cx="651.43" cy="266.13" r="2.5" fill="#2490fa"/>
<circle cx="656.36" cy="288.91" r="2.5" fill="#2490fa"/>
<circle cx="661.30" cy="301.46" r="2.5" fill="#2490fa"/>
<line x1="516.00" y1="326.55" x2="516.00" y2="408.10" stroke="#000" stroke-width="1.2"/>
<line x1="512.80" y1="336.00" x2="516.00" y2="336.00" stroke="#000" stroke-width="0.8"/>
<text x="511.00" y="338.90" font-size="9" fill="#000" text-anchor="end" >−50</text>
<line x1="512.80" y1="353.90" x2="516.00" y2="353.90" stroke="#000" stroke-width="0.8"/>
<text x="511.00" y="356.80" font-size="9" fill="#000" text-anchor="end" >−52</text>
<line x1="512.80" y1="371.80" x2="516.00" y2="371.80" stroke="#000" stroke-width="0.8"/>
<text x="511.00" y="374.70" font-size="9" fill="#000" text-anchor="end" >−54</text>
<line x1="512.80" y1="389.70" x2="516.00" y2="389.70" stroke="#000" stroke-width="0.8"/>
<text x="511.00" y="392.60" font-size="9" fill="#000" text-anchor="end" >−56</text>
<line x1="512.80" y1="407.60" x2="516.00" y2="407.60" stroke="#000" stroke-width="0.8"/>
<text x="511.00" y="410.50" font-size="9" fill="#000" text-anchor="end" >−58</text>
<line x1="514.20" y1="327.05" x2="516.00" y2="327.05" stroke="#000" stroke-width="0.8"/>
<line x1="514.20" y1="344.95" x2="516.00" y2="344.95" stroke="#000" stroke-width="0.8"/>
<line x1="514.20" y1="362.85" x2="516.00" y2="362.85" stroke="#000" stroke-width="0.8"/>
<line x1="514.20" y1="380.75" x2="516.00" y2="380.75" stroke="#000" stroke-width="0.8"/>
<line x1="514.20" y1="398.65" x2="516.00" y2="398.65" stroke="#000" stroke-width="0.8"/>
<polyline points="523.20,375.73 528.13,391.50 533.06,382.15 538.00,405.80 542.93,380.11 547.86,388.58 552.79,383.03 557.72,392.37 562.66,364.34 567.59,391.50 572.52,406.09 577.45,387.12 582.38,381.86 587.32,357.92 592.25,377.19 597.18,333.39 602.11,395.58 607.04,359.67 611.98,389.74 616.91,364.05 621.84,379.23 626.77,398.80 631.70,391.79 636.64,387.70 641.57,357.63 646.50,395.00 651.43,365.51 656.36,384.49 661.30,387.12" fill="none" stroke="#2490fa" stroke-width="0.85" stroke-linejoin="round"/>
<line x1="517.96" y1="385.36" x2="661.02" y2="377.19" stroke="#0000c0" stroke-width="1.6" stroke-dasharray="4,2"/>
<circle cx="523.20" cy="375.73" r="2.5" fill="#2490fa"/>
<circle cx="528.13" cy="391.50" r="2.5" fill="#2490fa"/>
<circle cx="533.06" cy="382.15" r="2.5" fill="#2490fa"/>
<circle cx="538.00" cy="405.80" r="2.5" fill="#2490fa"/>
<circle cx="542.93" cy="380.11" r="2.5" fill="#2490fa"/>
<circle cx="547.86" cy="388.58" r="2.5" fill="#2490fa"/>
<circle cx="552.79" cy="383.03" r="2.5" fill="#2490fa"/>
<circle cx="557.72" cy="392.37" r="2.4" fill="#fff" stroke="#2490fa" stroke-width="0.8"/>
<circle cx="562.66" cy="364.34" r="2.5" fill="#2490fa"/>
<circle cx="567.59" cy="391.50" r="2.5" fill="#2490fa"/>
<circle cx="572.52" cy="406.09" r="2.5" fill="#2490fa"/>
<circle cx="577.45" cy="387.12" r="2.5" fill="#2490fa"/>
<circle cx="582.38" cy="381.86" r="2.5" fill="#2490fa"/>
<circle cx="587.32" cy="357.92" r="2.5" fill="#2490fa"/>
<circle cx="592.25" cy="377.19" r="2.4" fill="#fff" stroke="#2490fa" stroke-width="0.8"/>
<circle cx="597.18" cy="333.39" r="2.4" fill="#fff" stroke="#2490fa" stroke-width="0.8"/>
<circle cx="602.11" cy="395.58" r="2.5" fill="#2490fa"/>
<circle cx="607.04" cy="359.67" r="2.5" fill="#2490fa"/>
<circle cx="611.98" cy="389.74" r="2.5" fill="#2490fa"/>
<circle cx="616.91" cy="364.05" r="2.5" fill="#2490fa"/>
<circle cx="621.84" cy="379.23" r="2.5" fill="#2490fa"/>
<circle cx="626.77" cy="398.80" r="2.5" fill="#2490fa"/>
<circle cx="631.70" cy="391.79" r="2.5" fill="#2490fa"/>
<circle cx="636.64" cy="387.70" r="2.5" fill="#2490fa"/>
<circle cx="641.57" cy="357.63" r="2.5" fill="#2490fa"/>
<circle cx="646.50" cy="395.00" r="2.5" fill="#2490fa"/>
<circle cx="651.43" cy="365.51" r="2.5" fill="#2490fa"/>
<circle cx="656.36" cy="384.49" r="2.5" fill="#2490fa"/>
<circle cx="661.30" cy="387.12" r="2.5" fill="#2490fa"/>
<line x1="516.00" y1="423.10" x2="516.00" y2="504.50" stroke="#000" stroke-width="1.2"/>
<line x1="512.80" y1="435.10" x2="516.00" y2="435.10" stroke="#000" stroke-width="0.8"/>
<text x="511.00" y="438.00" font-size="9" fill="#000" text-anchor="end" >−36</text>
<line x1="512.80" y1="458.07" x2="516.00" y2="458.07" stroke="#000" stroke-width="0.8"/>
<text x="511.00" y="460.97" font-size="9" fill="#000" text-anchor="end" >−38</text>
<line x1="512.80" y1="481.03" x2="516.00" y2="481.03" stroke="#000" stroke-width="0.8"/>
<text x="511.00" y="483.93" font-size="9" fill="#000" text-anchor="end" >−40</text>
<line x1="512.80" y1="504.00" x2="516.00" y2="504.00" stroke="#000" stroke-width="0.8"/>
<text x="511.00" y="506.90" font-size="9" fill="#000" text-anchor="end" >−42</text>
<line x1="514.20" y1="423.62" x2="516.00" y2="423.62" stroke="#000" stroke-width="0.8"/>
<line x1="514.20" y1="446.58" x2="516.00" y2="446.58" stroke="#000" stroke-width="0.8"/>
<line x1="514.20" y1="469.55" x2="516.00" y2="469.55" stroke="#000" stroke-width="0.8"/>
<line x1="514.20" y1="492.52" x2="516.00" y2="492.52" stroke="#000" stroke-width="0.8"/>
<polyline points="523.20,461.97 528.13,468.39 533.06,463.43 538.00,497.01 542.93,472.19 547.86,479.49 552.79,465.77 557.72,490.58 562.66,442.12 567.59,462.85 572.52,485.62 577.45,463.72 582.38,466.93 587.32,435.40 592.25,459.64 597.18,429.85 602.11,497.88 607.04,447.96 611.98,485.62 616.91,452.92 621.84,455.55 626.77,480.95 631.70,464.60 636.64,477.74 641.57,441.24 646.50,455.84 651.43,445.33 656.36,465.18 661.30,462.55" fill="none" stroke="#2490fa" stroke-width="0.85" stroke-linejoin="round"/>
<line x1="517.96" y1="472.77" x2="661.02" y2="457.30" stroke="#1a9040" stroke-width="1.6" stroke-dasharray="4,2"/>
<circle cx="523.20" cy="461.97" r="2.4" fill="#fff" stroke="#2490fa" stroke-width="0.8"/>
<circle cx="528.13" cy="468.39" r="2.4" fill="#fff" stroke="#2490fa" stroke-width="0.8"/>
<circle cx="533.06" cy="463.43" r="2.5" fill="#2490fa"/>
<circle cx="538.00" cy="497.01" r="2.4" fill="#fff" stroke="#2490fa" stroke-width="0.8"/>
<circle cx="542.93" cy="472.19" r="2.4" fill="#fff" stroke="#2490fa" stroke-width="0.8"/>
<circle cx="547.86" cy="479.49" r="2.4" fill="#fff" stroke="#2490fa" stroke-width="0.8"/>
<circle cx="552.79" cy="465.77" r="2.4" fill="#fff" stroke="#2490fa" stroke-width="0.8"/>
<circle cx="557.72" cy="490.58" r="2.4" fill="#fff" stroke="#2490fa" stroke-width="0.8"/>
<circle cx="562.66" cy="442.12" r="2.5" fill="#2490fa"/>
<circle cx="567.59" cy="462.85" r="2.4" fill="#fff" stroke="#2490fa" stroke-width="0.8"/>
<circle cx="572.52" cy="485.62" r="2.5" fill="#2490fa"/>
<circle cx="577.45" cy="463.72" r="2.4" fill="#fff" stroke="#2490fa" stroke-width="0.8"/>
<circle cx="582.38" cy="466.93" r="2.5" fill="#2490fa"/>
<circle cx="587.32" cy="435.40" r="2.4" fill="#fff" stroke="#2490fa" stroke-width="0.8"/>
<circle cx="592.25" cy="459.64" r="2.4" fill="#fff" stroke="#2490fa" stroke-width="0.8"/>
<circle cx="597.18" cy="429.85" r="2.4" fill="#fff" stroke="#2490fa" stroke-width="0.8"/>
<circle cx="602.11" cy="497.88" r="2.4" fill="#fff" stroke="#2490fa" stroke-width="0.8"/>
<circle cx="607.04" cy="447.96" r="2.4" fill="#fff" stroke="#2490fa" stroke-width="0.8"/>
<circle cx="611.98" cy="485.62" r="2.4" fill="#fff" stroke="#2490fa" stroke-width="0.8"/>
<circle cx="616.91" cy="452.92" r="2.4" fill="#fff" stroke="#2490fa" stroke-width="0.8"/>
<circle cx="621.84" cy="455.55" r="2.5" fill="#2490fa"/>
<circle cx="626.77" cy="480.95" r="2.4" fill="#fff" stroke="#2490fa" stroke-width="0.8"/>
<circle cx="631.70" cy="464.60" r="2.4" fill="#fff" stroke="#2490fa" stroke-width="0.8"/>
<circle cx="636.64" cy="477.74" r="2.4" fill="#fff" stroke="#2490fa" stroke-width="0.8"/>
<circle cx="641.57" cy="441.24" r="2.4" fill="#fff" stroke="#2490fa" stroke-width="0.8"/>
<circle cx="646.50" cy="455.84" r="2.5" fill="#2490fa"/>
<circle cx="651.43" cy="445.33" r="2.5" fill="#2490fa"/>
<circle cx="656.36" cy="465.18" r="2.5" fill="#2490fa"/>
<circle cx="661.30" cy="462.55" r="2.4" fill="#fff" stroke="#2490fa" stroke-width="0.8"/>
<line x1="516.00" y1="519.70" x2="516.00" y2="601.00" stroke="#000" stroke-width="1.2"/>
<line x1="512.80" y1="520.20" x2="516.00" y2="520.20" stroke="#000" stroke-width="0.8"/>
<text x="511.00" y="523.10" font-size="9" fill="#000" text-anchor="end" >−13</text>
<line x1="512.80" y1="536.26" x2="516.00" y2="536.26" stroke="#000" stroke-width="0.8"/>
<text x="511.00" y="539.16" font-size="9" fill="#000" text-anchor="end" >−14</text>
<line x1="512.80" y1="552.32" x2="516.00" y2="552.32" stroke="#000" stroke-width="0.8"/>
<text x="511.00" y="555.22" font-size="9" fill="#000" text-anchor="end" >−15</text>
<line x1="512.80" y1="568.38" x2="516.00" y2="568.38" stroke="#000" stroke-width="0.8"/>
<text x="511.00" y="571.28" font-size="9" fill="#000" text-anchor="end" >−16</text>
<line x1="512.80" y1="584.44" x2="516.00" y2="584.44" stroke="#000" stroke-width="0.8"/>
<text x="511.00" y="587.34" font-size="9" fill="#000" text-anchor="end" >−17</text>
<line x1="512.80" y1="600.50" x2="516.00" y2="600.50" stroke="#000" stroke-width="0.8"/>
<text x="511.00" y="603.40" font-size="9" fill="#000" text-anchor="end" >−18</text>
<polyline points="523.20,551.46 528.13,587.37 533.06,541.24 538.00,579.49 542.93,554.67 547.86,577.15 552.79,559.34 557.72,580.36 562.66,529.27 567.59,529.56 572.52,563.43 577.45,538.32 582.38,568.69 587.32,545.33 592.25,571.61 597.18,556.72 602.11,599.05 607.04,547.37 611.98,594.96 616.91,563.43 621.84,579.20 626.77,582.99 631.70,546.50 636.64,557.88 641.57,552.04 646.50,551.46 651.43,559.05 656.36,563.43 661.30,548.83" fill="none" stroke="#2490fa" stroke-width="0.85" stroke-linejoin="round"/>
<line x1="517.96" y1="561.68" x2="660.44" y2="561.39" stroke="#8f8f8f" stroke-width="1.6" stroke-dasharray="4,2"/>
<circle cx="523.20" cy="551.46" r="2.5" fill="#2490fa"/>
<circle cx="528.13" cy="587.37" r="2.5" fill="#2490fa"/>
<circle cx="533.06" cy="541.24" r="2.5" fill="#2490fa"/>
<circle cx="538.00" cy="579.49" r="2.5" fill="#2490fa"/>
<circle cx="542.93" cy="554.67" r="2.5" fill="#2490fa"/>
<circle cx="547.86" cy="577.15" r="2.5" fill="#2490fa"/>
<circle cx="552.79" cy="559.34" r="2.5" fill="#2490fa"/>
<circle cx="557.72" cy="580.36" r="2.5" fill="#2490fa"/>
<circle cx="562.66" cy="529.27" r="2.5" fill="#2490fa"/>
<circle cx="567.59" cy="529.56" r="2.5" fill="#2490fa"/>
<circle cx="572.52" cy="563.43" r="2.5" fill="#2490fa"/>
<circle cx="577.45" cy="538.32" r="2.5" fill="#2490fa"/>
<circle cx="582.38" cy="568.69" r="2.5" fill="#2490fa"/>
<circle cx="587.32" cy="545.33" r="2.5" fill="#2490fa"/>
<circle cx="592.25" cy="571.61" r="2.5" fill="#2490fa"/>
<circle cx="597.18" cy="556.72" r="2.5" fill="#2490fa"/>
<circle cx="602.11" cy="599.05" r="2.5" fill="#2490fa"/>
<circle cx="607.04" cy="547.37" r="2.5" fill="#2490fa"/>
<circle cx="611.98" cy="594.96" r="2.5" fill="#2490fa"/>
<circle cx="616.91" cy="563.43" r="2.5" fill="#2490fa"/>
<circle cx="621.84" cy="579.20" r="2.5" fill="#2490fa"/>
<circle cx="626.77" cy="582.99" r="2.5" fill="#2490fa"/>
<circle cx="631.70" cy="546.50" r="2.5" fill="#2490fa"/>
<circle cx="636.64" cy="557.88" r="2.5" fill="#2490fa"/>
<circle cx="641.57" cy="552.04" r="2.5" fill="#2490fa"/>
<circle cx="646.50" cy="551.46" r="2.5" fill="#2490fa"/>
<circle cx="651.43" cy="559.05" r="2.5" fill="#2490fa"/>
<circle cx="656.36" cy="563.43" r="2.5" fill="#2490fa"/>
<circle cx="661.30" cy="548.83" r="2.5" fill="#2490fa"/>
<line x1="516.00" y1="616.20" x2="516.00" y2="697.20" stroke="#000" stroke-width="1.2"/>
<line x1="512.80" y1="616.70" x2="516.00" y2="616.70" stroke="#000" stroke-width="0.8"/>
<text x="511.00" y="619.60" font-size="9" fill="#000" text-anchor="end" >−14</text>
<line x1="512.80" y1="630.03" x2="516.00" y2="630.03" stroke="#000" stroke-width="0.8"/>
<text x="511.00" y="632.93" font-size="9" fill="#000" text-anchor="end" >−15</text>
<line x1="512.80" y1="643.37" x2="516.00" y2="643.37" stroke="#000" stroke-width="0.8"/>
<text x="511.00" y="646.27" font-size="9" fill="#000" text-anchor="end" >−16</text>
<line x1="512.80" y1="656.70" x2="516.00" y2="656.70" stroke="#000" stroke-width="0.8"/>
<text x="511.00" y="659.60" font-size="9" fill="#000" text-anchor="end" >−17</text>
<line x1="512.80" y1="670.03" x2="516.00" y2="670.03" stroke="#000" stroke-width="0.8"/>
<text x="511.00" y="672.93" font-size="9" fill="#000" text-anchor="end" >−18</text>
<line x1="512.80" y1="683.37" x2="516.00" y2="683.37" stroke="#000" stroke-width="0.8"/>
<text x="511.00" y="686.27" font-size="9" fill="#000" text-anchor="end" >−19</text>
<line x1="512.80" y1="696.70" x2="516.00" y2="696.70" stroke="#000" stroke-width="0.8"/>
<text x="511.00" y="699.60" font-size="9" fill="#000" text-anchor="end" >−20</text>
<polyline points="523.20,651.72 528.13,640.62 533.06,647.92 538.00,669.53 542.93,663.39 547.86,665.15 552.79,639.16 557.72,659.31 562.66,635.66 567.59,659.31 572.52,669.23 577.45,656.39 582.38,651.72 587.32,616.97 592.25,659.01 597.18,634.20 602.11,664.27 607.04,635.66 611.98,671.86 616.91,647.63 621.84,655.22 626.77,686.75 631.70,668.07 636.64,665.73 641.57,624.56" fill="none" stroke="#2490fa" stroke-width="0.85" stroke-linejoin="round"/>
<polyline points="651.43,624.85 656.36,642.37 661.30,642.08" fill="none" stroke="#2490fa" stroke-width="0.85" stroke-linejoin="round"/>
<line x1="517.96" y1="655.80" x2="661.02" y2="647.92" stroke="#8f8f8f" stroke-width="1.6" stroke-dasharray="4,2"/>
<circle cx="523.20" cy="651.72" r="2.5" fill="#2490fa"/>
<circle cx="528.13" cy="640.62" r="2.5" fill="#2490fa"/>
<circle cx="533.06" cy="647.92" r="2.5" fill="#2490fa"/>
<circle cx="538.00" cy="669.53" r="2.5" fill="#2490fa"/>
<circle cx="542.93" cy="663.39" r="2.5" fill="#2490fa"/>
<circle cx="547.86" cy="665.15" r="2.5" fill="#2490fa"/>
<circle cx="552.79" cy="639.16" r="2.5" fill="#2490fa"/>
<circle cx="557.72" cy="659.31" r="2.5" fill="#2490fa"/>
<circle cx="562.66" cy="635.66" r="2.5" fill="#2490fa"/>
<circle cx="567.59" cy="659.31" r="2.5" fill="#2490fa"/>
<circle cx="572.52" cy="669.23" r="2.5" fill="#2490fa"/>
<circle cx="577.45" cy="656.39" r="2.5" fill="#2490fa"/>
<circle cx="582.38" cy="651.72" r="2.5" fill="#2490fa"/>
<circle cx="587.32" cy="616.97" r="2.5" fill="#2490fa"/>
<circle cx="592.25" cy="659.01" r="2.5" fill="#2490fa"/>
<circle cx="597.18" cy="634.20" r="2.5" fill="#2490fa"/>
<circle cx="602.11" cy="664.27" r="2.5" fill="#2490fa"/>
<circle cx="607.04" cy="635.66" r="2.5" fill="#2490fa"/>
<circle cx="611.98" cy="671.86" r="2.5" fill="#2490fa"/>
<circle cx="616.91" cy="647.63" r="2.5" fill="#2490fa"/>
<circle cx="621.84" cy="655.22" r="2.5" fill="#2490fa"/>
<circle cx="626.77" cy="686.75" r="2.5" fill="#2490fa"/>
<circle cx="631.70" cy="668.07" r="2.5" fill="#2490fa"/>
<circle cx="636.64" cy="665.73" r="2.5" fill="#2490fa"/>
<circle cx="641.57" cy="624.56" r="2.5" fill="#2490fa"/>
<circle cx="651.43" cy="624.85" r="2.5" fill="#2490fa"/>
<circle cx="656.36" cy="642.37" r="2.5" fill="#2490fa"/>
<circle cx="661.30" cy="642.08" r="2.5" fill="#2490fa"/>
<line x1="51.70" y1="711.3" x2="200.50" y2="711.3" stroke="#000" stroke-width="1.2"/>
<line x1="55.10" y1="711.3" x2="55.10" y2="712.90" stroke="#000" stroke-width="0.6"/>
<line x1="60.02" y1="711.3" x2="60.02" y2="712.90" stroke="#000" stroke-width="0.6"/>
<line x1="64.95" y1="711.3" x2="64.95" y2="713.70" stroke="#000" stroke-width="0.6"/>
<text x="64.95" y="722.40" font-size="8.6" fill="#000" text-anchor="middle" >1995</text>
<line x1="69.87" y1="711.3" x2="69.87" y2="712.90" stroke="#000" stroke-width="0.6"/>
<line x1="74.80" y1="711.3" x2="74.80" y2="712.90" stroke="#000" stroke-width="0.6"/>
<line x1="79.72" y1="711.3" x2="79.72" y2="712.90" stroke="#000" stroke-width="0.6"/>
<line x1="84.64" y1="711.3" x2="84.64" y2="712.90" stroke="#000" stroke-width="0.6"/>
<line x1="89.57" y1="711.3" x2="89.57" y2="713.70" stroke="#000" stroke-width="0.6"/>
<text x="89.57" y="722.40" font-size="8.6" fill="#000" text-anchor="middle" >2000</text>
<line x1="94.49" y1="711.3" x2="94.49" y2="712.90" stroke="#000" stroke-width="0.6"/>
<line x1="99.42" y1="711.3" x2="99.42" y2="712.90" stroke="#000" stroke-width="0.6"/>
<line x1="104.34" y1="711.3" x2="104.34" y2="712.90" stroke="#000" stroke-width="0.6"/>
<line x1="109.26" y1="711.3" x2="109.26" y2="712.90" stroke="#000" stroke-width="0.6"/>
<line x1="114.19" y1="711.3" x2="114.19" y2="713.70" stroke="#000" stroke-width="0.6"/>
<text x="114.19" y="722.40" font-size="8.6" fill="#000" text-anchor="middle" >2005</text>
<line x1="119.11" y1="711.3" x2="119.11" y2="712.90" stroke="#000" stroke-width="0.6"/>
<line x1="124.04" y1="711.3" x2="124.04" y2="712.90" stroke="#000" stroke-width="0.6"/>
<line x1="128.96" y1="711.3" x2="128.96" y2="712.90" stroke="#000" stroke-width="0.6"/>
<line x1="133.88" y1="711.3" x2="133.88" y2="712.90" stroke="#000" stroke-width="0.6"/>
<line x1="138.81" y1="711.3" x2="138.81" y2="713.70" stroke="#000" stroke-width="0.6"/>
<text x="138.81" y="722.40" font-size="8.6" fill="#000" text-anchor="middle" >2010</text>
<line x1="143.73" y1="711.3" x2="143.73" y2="712.90" stroke="#000" stroke-width="0.6"/>
<line x1="148.66" y1="711.3" x2="148.66" y2="712.90" stroke="#000" stroke-width="0.6"/>
<line x1="153.58" y1="711.3" x2="153.58" y2="712.90" stroke="#000" stroke-width="0.6"/>
<line x1="158.50" y1="711.3" x2="158.50" y2="712.90" stroke="#000" stroke-width="0.6"/>
<line x1="163.43" y1="711.3" x2="163.43" y2="713.70" stroke="#000" stroke-width="0.6"/>
<text x="163.43" y="722.40" font-size="8.6" fill="#000" text-anchor="middle" >2015</text>
<line x1="168.35" y1="711.3" x2="168.35" y2="712.90" stroke="#000" stroke-width="0.6"/>
<line x1="173.28" y1="711.3" x2="173.28" y2="712.90" stroke="#000" stroke-width="0.6"/>
<line x1="178.20" y1="711.3" x2="178.20" y2="712.90" stroke="#000" stroke-width="0.6"/>
<line x1="183.12" y1="711.3" x2="183.12" y2="712.90" stroke="#000" stroke-width="0.6"/>
<line x1="188.05" y1="711.3" x2="188.05" y2="713.70" stroke="#000" stroke-width="0.6"/>
<text x="188.05" y="722.40" font-size="8.6" fill="#000" text-anchor="middle" >2020</text>
<line x1="192.97" y1="711.3" x2="192.97" y2="712.90" stroke="#000" stroke-width="0.6"/>
<line x1="197.90" y1="711.3" x2="197.90" y2="712.90" stroke="#000" stroke-width="0.6"/>
<line x1="285.00" y1="711.3" x2="433.80" y2="711.3" stroke="#000" stroke-width="1.2"/>
<line x1="292.60" y1="711.3" x2="292.60" y2="712.90" stroke="#000" stroke-width="0.6"/>
<line x1="297.56" y1="711.3" x2="297.56" y2="713.70" stroke="#000" stroke-width="0.6"/>
<text x="297.56" y="722.40" font-size="8.6" fill="#000" text-anchor="middle" >1995</text>
<line x1="302.51" y1="711.3" x2="302.51" y2="712.90" stroke="#000" stroke-width="0.6"/>
<line x1="307.47" y1="711.3" x2="307.47" y2="712.90" stroke="#000" stroke-width="0.6"/>
<line x1="312.42" y1="711.3" x2="312.42" y2="712.90" stroke="#000" stroke-width="0.6"/>
<line x1="317.38" y1="711.3" x2="317.38" y2="712.90" stroke="#000" stroke-width="0.6"/>
<line x1="322.34" y1="711.3" x2="322.34" y2="713.70" stroke="#000" stroke-width="0.6"/>
<text x="322.34" y="722.40" font-size="8.6" fill="#000" text-anchor="middle" >2000</text>
<line x1="327.29" y1="711.3" x2="327.29" y2="712.90" stroke="#000" stroke-width="0.6"/>
<line x1="332.25" y1="711.3" x2="332.25" y2="712.90" stroke="#000" stroke-width="0.6"/>
<line x1="337.20" y1="711.3" x2="337.20" y2="712.90" stroke="#000" stroke-width="0.6"/>
<line x1="342.16" y1="711.3" x2="342.16" y2="712.90" stroke="#000" stroke-width="0.6"/>
<line x1="347.12" y1="711.3" x2="347.12" y2="713.70" stroke="#000" stroke-width="0.6"/>
<text x="347.12" y="722.40" font-size="8.6" fill="#000" text-anchor="middle" >2005</text>
<line x1="352.07" y1="711.3" x2="352.07" y2="712.90" stroke="#000" stroke-width="0.6"/>
<line x1="357.03" y1="711.3" x2="357.03" y2="712.90" stroke="#000" stroke-width="0.6"/>
<line x1="361.98" y1="711.3" x2="361.98" y2="712.90" stroke="#000" stroke-width="0.6"/>
<line x1="366.94" y1="711.3" x2="366.94" y2="712.90" stroke="#000" stroke-width="0.6"/>
<line x1="371.90" y1="711.3" x2="371.90" y2="713.70" stroke="#000" stroke-width="0.6"/>
<text x="371.90" y="722.40" font-size="8.6" fill="#000" text-anchor="middle" >2010</text>
<line x1="376.85" y1="711.3" x2="376.85" y2="712.90" stroke="#000" stroke-width="0.6"/>
<line x1="381.81" y1="711.3" x2="381.81" y2="712.90" stroke="#000" stroke-width="0.6"/>
<line x1="386.76" y1="711.3" x2="386.76" y2="712.90" stroke="#000" stroke-width="0.6"/>
<line x1="391.72" y1="711.3" x2="391.72" y2="712.90" stroke="#000" stroke-width="0.6"/>
<line x1="396.68" y1="711.3" x2="396.68" y2="713.70" stroke="#000" stroke-width="0.6"/>
<text x="396.68" y="722.40" font-size="8.6" fill="#000" text-anchor="middle" >2015</text>
<line x1="401.63" y1="711.3" x2="401.63" y2="712.90" stroke="#000" stroke-width="0.6"/>
<line x1="406.59" y1="711.3" x2="406.59" y2="712.90" stroke="#000" stroke-width="0.6"/>
<line x1="411.54" y1="711.3" x2="411.54" y2="712.90" stroke="#000" stroke-width="0.6"/>
<line x1="416.50" y1="711.3" x2="416.50" y2="712.90" stroke="#000" stroke-width="0.6"/>
<line x1="421.46" y1="711.3" x2="421.46" y2="713.70" stroke="#000" stroke-width="0.6"/>
<text x="421.46" y="722.40" font-size="8.6" fill="#000" text-anchor="middle" >2020</text>
<line x1="426.41" y1="711.3" x2="426.41" y2="712.90" stroke="#000" stroke-width="0.6"/>
<line x1="431.37" y1="711.3" x2="431.37" y2="712.90" stroke="#000" stroke-width="0.6"/>
<line x1="515.40" y1="711.3" x2="663.90" y2="711.3" stroke="#000" stroke-width="1.2"/>
<line x1="523.20" y1="711.3" x2="523.20" y2="712.90" stroke="#000" stroke-width="0.6"/>
<line x1="528.13" y1="711.3" x2="528.13" y2="713.70" stroke="#000" stroke-width="0.6"/>
<text x="528.13" y="722.40" font-size="8.6" fill="#000" text-anchor="middle" >1995</text>
<line x1="533.06" y1="711.3" x2="533.06" y2="712.90" stroke="#000" stroke-width="0.6"/>
<line x1="538.00" y1="711.3" x2="538.00" y2="712.90" stroke="#000" stroke-width="0.6"/>
<line x1="542.93" y1="711.3" x2="542.93" y2="712.90" stroke="#000" stroke-width="0.6"/>
<line x1="547.86" y1="711.3" x2="547.86" y2="712.90" stroke="#000" stroke-width="0.6"/>
<line x1="552.79" y1="711.3" x2="552.79" y2="713.70" stroke="#000" stroke-width="0.6"/>
<text x="552.79" y="722.40" font-size="8.6" fill="#000" text-anchor="middle" >2000</text>
<line x1="557.72" y1="711.3" x2="557.72" y2="712.90" stroke="#000" stroke-width="0.6"/>
<line x1="562.66" y1="711.3" x2="562.66" y2="712.90" stroke="#000" stroke-width="0.6"/>
<line x1="567.59" y1="711.3" x2="567.59" y2="712.90" stroke="#000" stroke-width="0.6"/>
<line x1="572.52" y1="711.3" x2="572.52" y2="712.90" stroke="#000" stroke-width="0.6"/>
<line x1="577.45" y1="711.3" x2="577.45" y2="713.70" stroke="#000" stroke-width="0.6"/>
<text x="577.45" y="722.40" font-size="8.6" fill="#000" text-anchor="middle" >2005</text>
<line x1="582.38" y1="711.3" x2="582.38" y2="712.90" stroke="#000" stroke-width="0.6"/>
<line x1="587.32" y1="711.3" x2="587.32" y2="712.90" stroke="#000" stroke-width="0.6"/>
<line x1="592.25" y1="711.3" x2="592.25" y2="712.90" stroke="#000" stroke-width="0.6"/>
<line x1="597.18" y1="711.3" x2="597.18" y2="712.90" stroke="#000" stroke-width="0.6"/>
<line x1="602.11" y1="711.3" x2="602.11" y2="713.70" stroke="#000" stroke-width="0.6"/>
<text x="602.11" y="722.40" font-size="8.6" fill="#000" text-anchor="middle" >2010</text>
<line x1="607.04" y1="711.3" x2="607.04" y2="712.90" stroke="#000" stroke-width="0.6"/>
<line x1="611.98" y1="711.3" x2="611.98" y2="712.90" stroke="#000" stroke-width="0.6"/>
<line x1="616.91" y1="711.3" x2="616.91" y2="712.90" stroke="#000" stroke-width="0.6"/>
<line x1="621.84" y1="711.3" x2="621.84" y2="712.90" stroke="#000" stroke-width="0.6"/>
<line x1="626.77" y1="711.3" x2="626.77" y2="713.70" stroke="#000" stroke-width="0.6"/>
<text x="626.77" y="722.40" font-size="8.6" fill="#000" text-anchor="middle" >2015</text>
<line x1="631.70" y1="711.3" x2="631.70" y2="712.90" stroke="#000" stroke-width="0.6"/>
<line x1="636.64" y1="711.3" x2="636.64" y2="712.90" stroke="#000" stroke-width="0.6"/>
<line x1="641.57" y1="711.3" x2="641.57" y2="712.90" stroke="#000" stroke-width="0.6"/>
<line x1="646.50" y1="711.3" x2="646.50" y2="712.90" stroke="#000" stroke-width="0.6"/>
<line x1="651.43" y1="711.3" x2="651.43" y2="713.70" stroke="#000" stroke-width="0.6"/>
<text x="651.43" y="722.40" font-size="8.6" fill="#000" text-anchor="middle" >2020</text>
<line x1="656.36" y1="711.3" x2="656.36" y2="712.90" stroke="#000" stroke-width="0.6"/>
<line x1="661.30" y1="711.3" x2="661.30" y2="712.90" stroke="#000" stroke-width="0.6"/>
</svg>
</body></html>
